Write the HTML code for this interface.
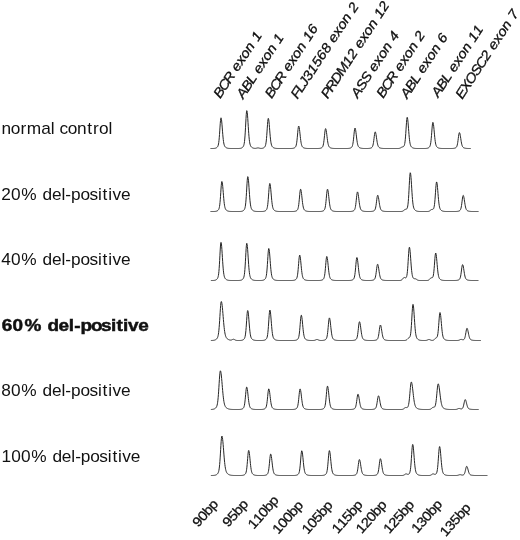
<!DOCTYPE html><html><head><meta charset="utf-8"><style>html,body{margin:0;padding:0;background:#fff;}svg{display:block;will-change:transform;}text{font-family:"Liberation Sans",sans-serif;fill:#111;}</style></head><body>
<svg width="520" height="540" viewBox="0 0 520 540">
<rect width="520" height="540" fill="#fff"/>
<text transform="translate(1.4 134.1) scale(1.1 1)" x="-0.01 8.53 17.40 23.12 36.13 44.78 48.65 52.92 60.24 68.78 78.04 83.26 88.63 97.32" y="0" font-size="15.7">normal control</text>
<text transform="translate(1.3 199.8) scale(1.1 1)" x="0.06 8.90 18.20 32.92 37.52 45.99 54.67 58.23 63.35 71.90 80.18 87.89 92.10 97.19 101.03 108.85" y="0" font-size="15.7">20% del-positive</text>
<text transform="translate(1.3 265.1) scale(1.1 1)" x="0.06 8.90 18.20 32.92 37.52 45.99 54.67 58.23 63.35 71.90 80.18 87.89 92.10 97.19 101.03 108.85" y="0" font-size="15.7">40% del-positive</text>
<text transform="translate(1.5 330.9) scale(1.21 1)" x="0.13 9.12 19.04 34.05 38.01 47.06 55.60 60.19 65.29 73.93 82.33 90.43 95.04 100.52 104.61 112.93" y="0" font-size="15.7" font-weight="bold" stroke="#111" stroke-width="0.45">60% del-positive</text>
<text transform="translate(1.3 396.2) scale(1.1 1)" x="0.06 8.90 18.20 32.92 37.52 45.99 54.67 58.23 63.35 71.90 80.18 87.89 92.10 97.19 101.03 108.85" y="0" font-size="15.7">80% del-positive</text>
<text transform="translate(1.4 461.9) scale(1.1 1)" x="0.06 8.90 17.75 27.04 41.77 46.36 54.84 63.51 67.08 72.19 80.75 89.03 96.74 100.95 106.03 109.87 117.69" y="0" font-size="15.7">100% del-positive</text>
<text transform="translate(220.5 98.5) rotate(-56.5) scale(1.1 1)" x="-0.42 7.39 15.62 24.79 28.52 35.92 42.63 49.95 57.64 61.61" y="0" font-size="13.4" font-style="italic" stroke="#111" stroke-width="0.3">BCR exon 1</text>
<text transform="translate(243.5 99) rotate(-56.5) scale(1.1 1)" x="-0.43 7.67 15.76 22.99 26.72 34.12 40.83 48.16 55.84 59.81" y="0" font-size="13.4" font-style="italic" stroke="#111" stroke-width="0.3">ABL exon 1</text>
<text transform="translate(272 98.5) rotate(-56.5) scale(1.1 1)" x="-0.42 7.39 15.62 24.79 28.52 35.92 42.63 49.95 57.64 61.61 69.12" y="0" font-size="13.4" font-style="italic" stroke="#111" stroke-width="0.3">BCR exon 16</text>
<text transform="translate(298 98.8) rotate(-56.5) scale(1.1 1)" x="-0.69 6.36 12.72 18.79 26.30 33.82 41.34 48.85 56.55 60.29 67.68 74.39 81.72 89.40 93.37" y="0" font-size="13.4" font-style="italic" stroke="#111" stroke-width="0.3">FLJ31568 exon 2</text>
<text transform="translate(328.3 98.3) rotate(-56.5) scale(1.1 1)" x="-0.91 6.39 15.06 23.85 34.45 41.96 49.66 53.40 60.79 67.50 74.83 82.51 86.48 94.00" y="0" font-size="13.4" font-style="italic" stroke="#111" stroke-width="0.3">PRDM12 exon 12</text>
<text transform="translate(358.0 98.3) rotate(-56.5) scale(1.1 1)" x="-0.43 7.66 15.74 24.47 28.20 35.60 42.31 49.63 57.32 61.29" y="0" font-size="13.4" font-style="italic" stroke="#111" stroke-width="0.3">ASS exon 4</text>
<text transform="translate(383.6 98.3) rotate(-56.5) scale(1.1 1)" x="-0.42 7.39 15.62 24.79 28.52 35.92 42.63 49.95 57.64 61.61" y="0" font-size="13.4" font-style="italic" stroke="#111" stroke-width="0.3">BCR exon 2</text>
<text transform="translate(407.4 98.8) rotate(-56.5) scale(1.1 1)" x="-0.43 7.67 15.76 22.99 26.72 34.12 40.83 48.16 55.84 59.81" y="0" font-size="13.4" font-style="italic" stroke="#111" stroke-width="0.3">ABL exon 6</text>
<text transform="translate(438.5 97.5) rotate(-56.5) scale(1.1 1)" x="-0.43 7.67 15.76 22.99 26.72 34.12 40.83 48.16 55.84 59.81 67.33" y="0" font-size="13.4" font-style="italic" stroke="#111" stroke-width="0.3">ABL exon 11</text>
<text transform="translate(462.6 99) rotate(-56.5) scale(1.1 1)" x="-0.73 7.05 15.00 24.44 32.24 41.23 48.93 52.67 60.06 66.77 74.10 81.78 85.75" y="0" font-size="13.4" font-style="italic" stroke="#111" stroke-width="0.3">EXOSC2 exon 7</text>
<text transform="translate(198.5 527.5) rotate(-48.5) scale(1.1 1)" x="-0.23 6.77 13.69 20.55" y="0" font-size="13.4" stroke="#111" stroke-width="0.3">90bp</text>
<text transform="translate(228.5 527.5) rotate(-48.5) scale(1.1 1)" x="-0.23 6.77 13.69 20.55" y="0" font-size="13.4" stroke="#111" stroke-width="0.3">95bp</text>
<text transform="translate(254 529.5) rotate(-48.5) scale(1.1 1)" x="-0.23 6.77 13.76 20.69 27.54" y="0" font-size="13.4" stroke="#111" stroke-width="0.3">110bp</text>
<text transform="translate(278.5 534.5) rotate(-48.5) scale(1.1 1)" x="-0.23 6.77 13.76 20.69 27.54" y="0" font-size="13.4" stroke="#111" stroke-width="0.3">100bp</text>
<text transform="translate(308 534.5) rotate(-48.5) scale(1.1 1)" x="-0.23 6.77 13.76 20.69 27.54" y="0" font-size="13.4" stroke="#111" stroke-width="0.3">105bp</text>
<text transform="translate(338 534) rotate(-48.5) scale(1.1 1)" x="-0.23 6.77 13.76 20.69 27.54" y="0" font-size="13.4" stroke="#111" stroke-width="0.3">115bp</text>
<text transform="translate(362 534) rotate(-48.5) scale(1.1 1)" x="-0.23 6.77 13.76 20.69 27.54" y="0" font-size="13.4" stroke="#111" stroke-width="0.3">120bp</text>
<text transform="translate(389.5 534) rotate(-48.5) scale(1.1 1)" x="-0.23 6.77 13.76 20.69 27.54" y="0" font-size="13.4" stroke="#111" stroke-width="0.3">125bp</text>
<text transform="translate(417.5 533.5) rotate(-48.5) scale(1.1 1)" x="-0.23 6.77 13.76 20.69 27.54" y="0" font-size="13.4" stroke="#111" stroke-width="0.3">130bp</text>
<text transform="translate(446 537) rotate(-48.5) scale(1.1 1)" x="-0.23 6.77 13.76 20.69 27.54" y="0" font-size="13.4" stroke="#111" stroke-width="0.3">135bp</text>
<polyline fill="none" stroke="#262626" stroke-width="1.0" stroke-linejoin="round" points="210.50,148.50 210.75,148.50 211.00,148.50 211.25,148.50 211.50,148.50 211.75,148.50 212.00,148.50 212.25,148.49 212.50,148.49 212.75,148.49 213.00,148.48 213.25,148.47 213.50,148.46 213.75,148.45 214.00,148.43 214.25,148.41 214.50,148.38 214.75,148.35 215.00,148.30 215.25,148.24 215.50,148.18 215.75,148.09 216.00,147.99 216.25,147.87 216.50,147.73 216.75,147.57 217.00,147.37 217.25,147.13 217.50,146.82 217.75,146.42 218.00,145.87 218.25,145.09 218.50,143.98 218.75,142.45 219.00,140.39 219.25,137.74 219.50,134.53 219.75,130.90 220.00,127.09 220.25,123.48 220.50,120.48 220.75,118.50 221.00,117.80 221.25,118.30 221.50,119.75 221.75,121.99 222.00,124.82 222.25,127.96 222.50,131.19 222.75,134.27 223.00,137.05 223.25,139.44 223.50,141.41 223.75,142.97 224.00,144.18 224.25,145.09 224.50,145.76 224.75,146.27 225.00,146.65 225.25,146.95 225.50,147.19 225.75,147.38 226.00,147.55 226.25,147.70 226.50,147.82 226.75,147.93 227.00,148.02 227.25,148.11 227.50,148.18 227.75,148.23 228.00,148.28 228.25,148.33 228.50,148.36 228.75,148.39 229.00,148.41 229.25,148.43 229.50,148.45 229.75,148.46 230.00,148.47 230.25,148.48 230.50,148.48 230.75,148.49 231.00,148.49 231.25,148.49 231.50,148.49 231.75,148.50 232.00,148.50 232.25,148.50 232.50,148.50 232.75,148.50 233.00,148.50 233.25,148.50 233.50,148.50 233.75,148.50 234.00,148.50 234.25,148.50 234.50,148.50 234.75,148.50 235.00,148.50 235.25,148.50 235.50,148.50 235.75,148.50 236.00,148.50 236.25,148.50 236.50,148.50 236.75,148.50 237.00,148.50 237.25,148.50 237.50,148.50 237.75,148.50 238.00,148.49 238.25,148.49 238.50,148.49 238.75,148.48 239.00,148.47 239.25,148.46 239.50,148.44 239.75,148.42 240.00,148.40 240.25,148.36 240.50,148.32 240.75,148.27 241.00,148.20 241.25,148.12 241.50,148.02 241.75,147.90 242.00,147.76 242.25,147.59 242.50,147.39 242.75,147.15 243.00,146.87 243.25,146.51 243.50,146.04 243.75,145.40 244.00,144.51 244.25,143.24 244.50,141.46 244.75,139.05 245.00,135.93 245.25,132.10 245.50,127.69 245.75,123.00 246.00,118.46 246.25,114.57 246.50,111.83 246.75,110.63 247.00,111.00 247.25,112.56 247.50,115.16 247.75,118.52 248.00,122.35 248.25,126.34 248.50,130.19 248.75,133.71 249.00,136.77 249.25,139.30 249.50,141.33 249.75,142.90 250.00,144.09 250.25,144.97 250.50,145.63 250.75,146.13 251.00,146.52 251.25,146.83 251.50,147.08 251.75,147.29 252.00,147.47 252.25,147.63 252.50,147.77 252.75,147.89 253.00,147.99 253.25,148.08 253.50,148.16 253.75,148.22 254.00,148.27 254.25,148.31 254.50,148.34 254.75,148.36 255.00,148.37 255.25,148.37 255.50,148.35 255.75,148.33 256.00,148.29 256.25,148.23 256.50,148.17 256.75,148.11 257.00,148.04 257.25,147.99 257.50,147.94 257.75,147.91 258.00,147.90 258.25,147.91 258.50,147.94 258.75,147.99 259.00,148.05 259.25,148.12 259.50,148.19 259.75,148.25 260.00,148.30 260.25,148.35 260.50,148.38 260.75,148.40 261.00,148.41 261.25,148.41 261.50,148.40 261.75,148.38 262.00,148.35 262.25,148.31 262.50,148.26 262.75,148.19 263.00,148.12 263.25,148.02 263.50,147.91 263.75,147.77 264.00,147.62 264.25,147.43 264.50,147.20 264.75,146.92 265.00,146.54 265.25,146.03 265.50,145.32 265.75,144.30 266.00,142.89 266.25,140.97 266.50,138.49 266.75,135.43 267.00,131.92 267.25,128.18 267.50,124.56 267.75,121.46 268.00,119.28 268.25,118.33 268.50,118.62 268.75,119.86 269.00,121.93 269.25,124.61 269.50,127.67 269.75,130.84 270.00,133.91 270.25,136.72 270.50,139.15 270.75,141.17 271.00,142.79 271.25,144.04 271.50,144.98 271.75,145.69 272.00,146.22 272.25,146.61 272.50,146.92 272.75,147.17 273.00,147.37 273.25,147.54 273.50,147.68 273.75,147.81 274.00,147.92 274.25,148.01 274.50,148.10 274.75,148.17 275.00,148.23 275.25,148.28 275.50,148.32 275.75,148.36 276.00,148.39 276.25,148.41 276.50,148.43 276.75,148.45 277.00,148.46 277.25,148.47 277.50,148.48 277.75,148.48 278.00,148.49 278.25,148.49 278.50,148.49 278.75,148.49 279.00,148.50 279.25,148.50 279.50,148.50 279.75,148.50 280.00,148.50 280.25,148.50 280.50,148.50 280.75,148.50 281.00,148.50 281.25,148.50 281.50,148.50 281.75,148.50 282.00,148.50 282.25,148.50 282.50,148.50 282.75,148.50 283.00,148.50 283.25,148.50 283.50,148.50 283.75,148.50 284.00,148.50 284.25,148.50 284.50,148.50 284.75,148.50 285.00,148.50 285.25,148.50 285.50,148.50 285.75,148.50 286.00,148.50 286.25,148.50 286.50,148.50 286.75,148.50 287.00,148.50 287.25,148.50 287.50,148.50 287.75,148.50 288.00,148.50 288.25,148.50 288.50,148.50 288.75,148.50 289.00,148.50 289.25,148.50 289.50,148.50 289.75,148.50 290.00,148.50 290.25,148.49 290.50,148.49 290.75,148.49 291.00,148.48 291.25,148.47 291.50,148.46 291.75,148.45 292.00,148.43 292.25,148.41 292.50,148.38 292.75,148.35 293.00,148.30 293.25,148.25 293.50,148.19 293.75,148.11 294.00,148.02 294.25,147.91 294.50,147.79 294.75,147.64 295.00,147.45 295.25,147.22 295.50,146.90 295.75,146.47 296.00,145.86 296.25,144.99 296.50,143.80 296.75,142.20 297.00,140.18 297.25,137.75 297.50,135.04 297.75,132.26 298.00,129.68 298.25,127.61 298.50,126.33 298.75,126.01 299.00,126.53 299.25,127.71 299.50,129.46 299.75,131.59 300.00,133.92 300.25,136.27 300.50,138.50 300.75,140.48 301.00,142.17 301.25,143.56 301.50,144.65 301.75,145.48 302.00,146.11 302.25,146.58 302.50,146.93 302.75,147.19 303.00,147.40 303.25,147.57 303.50,147.71 303.75,147.83 304.00,147.93 304.25,148.02 304.50,148.10 304.75,148.16 305.00,148.22 305.25,148.27 305.50,148.31 305.75,148.35 306.00,148.38 306.25,148.40 306.50,148.42 306.75,148.44 307.00,148.45 307.25,148.46 307.50,148.47 307.75,148.48 308.00,148.48 308.25,148.49 308.50,148.49 308.75,148.49 309.00,148.50 309.25,148.50 309.50,148.50 309.75,148.50 310.00,148.50 310.25,148.50 310.50,148.50 310.75,148.50 311.00,148.50 311.25,148.50 311.50,148.50 311.75,148.50 312.00,148.50 312.25,148.50 312.50,148.50 312.75,148.50 313.00,148.50 313.25,148.50 313.50,148.50 313.75,148.50 314.00,148.50 314.25,148.50 314.50,148.50 314.75,148.50 315.00,148.50 315.25,148.50 315.50,148.50 315.75,148.50 316.00,148.50 316.25,148.50 316.50,148.50 316.75,148.50 317.00,148.49 317.25,148.49 317.50,148.49 317.75,148.49 318.00,148.48 318.25,148.47 318.50,148.46 318.75,148.45 319.00,148.43 319.25,148.41 319.50,148.38 319.75,148.35 320.00,148.31 320.25,148.26 320.50,148.20 320.75,148.13 321.00,148.04 321.25,147.94 321.50,147.82 321.75,147.68 322.00,147.50 322.25,147.27 322.50,146.95 322.75,146.51 323.00,145.89 323.25,145.01 323.50,143.82 323.75,142.26 324.00,140.32 324.25,138.06 324.50,135.61 324.75,133.18 325.00,131.05 325.25,129.47 325.50,128.67 325.75,128.72 326.00,129.42 326.25,130.68 326.50,132.38 326.75,134.36 327.00,136.45 327.25,138.49 327.50,140.38 327.75,142.04 328.00,143.43 328.25,144.54 328.50,145.41 328.75,146.07 329.00,146.57 329.25,146.93 329.50,147.21 329.75,147.42 330.00,147.59 330.25,147.73 330.50,147.84 330.75,147.94 331.00,148.03 331.25,148.10 331.50,148.17 331.75,148.22 332.00,148.27 332.25,148.31 332.50,148.35 332.75,148.38 333.00,148.40 333.25,148.42 333.50,148.44 333.75,148.45 334.00,148.46 334.25,148.47 334.50,148.48 334.75,148.48 335.00,148.49 335.25,148.49 335.50,148.49 335.75,148.49 336.00,148.50 336.25,148.50 336.50,148.50 336.75,148.50 337.00,148.50 337.25,148.50 337.50,148.50 337.75,148.50 338.00,148.50 338.25,148.50 338.50,148.50 338.75,148.50 339.00,148.50 339.25,148.50 339.50,148.50 339.75,148.50 340.00,148.50 340.25,148.50 340.50,148.50 340.75,148.50 341.00,148.50 341.25,148.50 341.50,148.50 341.75,148.50 342.00,148.50 342.25,148.50 342.50,148.50 342.75,148.50 343.00,148.50 343.25,148.50 343.50,148.50 343.75,148.50 344.00,148.50 344.25,148.50 344.50,148.50 344.75,148.50 345.00,148.50 345.25,148.50 345.50,148.50 345.75,148.50 346.00,148.50 346.25,148.50 346.50,148.49 346.75,148.49 347.00,148.49 347.25,148.48 347.50,148.48 347.75,148.47 348.00,148.46 348.25,148.44 348.50,148.42 348.75,148.40 349.00,148.37 349.25,148.33 349.50,148.28 349.75,148.23 350.00,148.16 350.25,148.08 350.50,147.99 350.75,147.88 351.00,147.74 351.25,147.58 351.50,147.38 351.75,147.11 352.00,146.74 352.25,146.22 352.50,145.48 352.75,144.46 353.00,143.08 353.25,141.32 353.50,139.17 353.75,136.74 354.00,134.20 354.25,131.79 354.50,129.79 354.75,128.46 355.00,128.00 355.25,128.33 355.50,129.30 355.75,130.80 356.00,132.69 356.25,134.79 356.50,136.94 356.75,139.00 357.00,140.85 357.25,142.45 357.50,143.77 357.75,144.81 358.00,145.61 358.25,146.22 358.50,146.67 358.75,147.01 359.00,147.27 359.25,147.46 359.50,147.62 359.75,147.76 360.00,147.87 360.25,147.96 360.50,148.05 360.75,148.12 361.00,148.18 361.25,148.24 361.50,148.28 361.75,148.32 362.00,148.36 362.25,148.38 362.50,148.41 362.75,148.43 363.00,148.44 363.25,148.46 363.50,148.47 363.75,148.47 364.00,148.48 364.25,148.48 364.50,148.49 364.75,148.49 365.00,148.49 365.25,148.49 365.50,148.50 365.75,148.50 366.00,148.50 366.25,148.50 366.50,148.50 366.75,148.49 367.00,148.49 367.25,148.49 367.50,148.49 367.75,148.48 368.00,148.47 368.25,148.46 368.50,148.45 368.75,148.43 369.00,148.41 369.25,148.39 369.50,148.35 369.75,148.32 370.00,148.27 370.25,148.21 370.50,148.15 370.75,148.07 371.00,147.97 371.25,147.86 371.50,147.73 371.75,147.55 372.00,147.32 372.25,147.00 372.50,146.55 372.75,145.91 373.00,145.03 373.25,143.85 373.50,142.36 373.75,140.57 374.00,138.57 374.25,136.52 374.50,134.61 374.75,133.09 375.00,132.14 375.25,131.91 375.50,132.29 375.75,133.16 376.00,134.45 376.25,136.02 376.50,137.75 376.75,139.48 377.00,141.12 377.25,142.59 377.50,143.83 377.75,144.85 378.00,145.66 378.25,146.27 378.50,146.74 378.75,147.08 379.00,147.34 379.25,147.54 379.50,147.69 379.75,147.81 380.00,147.92 380.25,148.00 380.50,148.08 380.75,148.14 381.00,148.20 381.25,148.25 381.50,148.29 381.75,148.33 382.00,148.36 382.25,148.39 382.50,148.41 382.75,148.43 383.00,148.44 383.25,148.46 383.50,148.47 383.75,148.47 384.00,148.48 384.25,148.48 384.50,148.49 384.75,148.49 385.00,148.49 385.25,148.50 385.50,148.50 385.75,148.50 386.00,148.50 386.25,148.50 386.50,148.50 386.75,148.50 387.00,148.50 387.25,148.50 387.50,148.50 387.75,148.50 388.00,148.50 388.25,148.50 388.50,148.50 388.75,148.50 389.00,148.50 389.25,148.50 389.50,148.50 389.75,148.50 390.00,148.50 390.25,148.50 390.50,148.50 390.75,148.50 391.00,148.50 391.25,148.50 391.50,148.50 391.75,148.50 392.00,148.50 392.25,148.50 392.50,148.50 392.75,148.50 393.00,148.50 393.25,148.50 393.50,148.50 393.75,148.50 394.00,148.50 394.25,148.50 394.50,148.50 394.75,148.50 395.00,148.50 395.25,148.50 395.50,148.50 395.75,148.50 396.00,148.50 396.25,148.50 396.50,148.50 396.75,148.50 397.00,148.50 397.25,148.50 397.50,148.50 397.75,148.49 398.00,148.49 398.25,148.48 398.50,148.47 398.75,148.45 399.00,148.42 399.25,148.37 399.50,148.31 399.75,148.24 400.00,148.14 400.25,148.03 400.50,147.89 400.75,147.74 401.00,147.59 401.25,147.44 401.50,147.30 401.75,147.17 402.00,147.07 402.25,146.98 402.50,146.91 402.75,146.84 403.00,146.77 403.25,146.67 403.50,146.54 403.75,146.32 404.00,145.98 404.25,145.46 404.50,144.68 404.75,143.53 405.00,141.91 405.25,139.72 405.50,136.93 405.75,133.58 406.00,129.83 406.25,125.97 406.50,122.39 406.75,119.53 407.00,117.75 407.25,117.32 407.50,118.03 407.75,119.68 408.00,122.10 408.25,125.05 408.50,128.29 408.75,131.55 409.00,134.63 409.25,137.38 409.50,139.73 409.75,141.65 410.00,143.16 410.25,144.31 410.50,145.19 410.75,145.83 411.00,146.32 411.25,146.69 411.50,146.98 411.75,147.21 412.00,147.40 412.25,147.57 412.50,147.71 412.75,147.83 413.00,147.94 413.25,148.03 413.50,148.11 413.75,148.18 414.00,148.24 414.25,148.29 414.50,148.33 414.75,148.37 415.00,148.39 415.25,148.42 415.50,148.44 415.75,148.45 416.00,148.46 416.25,148.47 416.50,148.48 416.75,148.48 417.00,148.49 417.25,148.49 417.50,148.49 417.75,148.50 418.00,148.50 418.25,148.50 418.50,148.50 418.75,148.50 419.00,148.50 419.25,148.50 419.50,148.50 419.75,148.50 420.00,148.50 420.25,148.50 420.50,148.50 420.75,148.50 421.00,148.50 421.25,148.50 421.50,148.50 421.75,148.50 422.00,148.50 422.25,148.50 422.50,148.50 422.75,148.50 423.00,148.50 423.25,148.50 423.50,148.50 423.75,148.50 424.00,148.50 424.25,148.49 424.50,148.49 424.75,148.49 425.00,148.48 425.25,148.48 425.50,148.47 425.75,148.45 426.00,148.44 426.25,148.42 426.50,148.39 426.75,148.35 427.00,148.31 427.25,148.26 427.50,148.20 427.75,148.12 428.00,148.03 428.25,147.92 428.50,147.79 428.75,147.64 429.00,147.46 429.25,147.23 429.50,146.94 429.75,146.55 430.00,146.01 430.25,145.25 430.50,144.17 430.75,142.69 431.00,140.74 431.25,138.28 431.50,135.37 431.75,132.18 432.00,128.95 432.25,126.04 432.50,123.79 432.75,122.52 433.00,122.37 433.25,123.13 433.50,124.66 433.75,126.79 434.00,129.34 434.25,132.08 434.50,134.80 434.75,137.34 435.00,139.59 435.25,141.49 435.50,143.02 435.75,144.23 436.00,145.15 436.25,145.84 436.50,146.35 436.75,146.74 437.00,147.03 437.25,147.26 437.50,147.45 437.75,147.61 438.00,147.74 438.25,147.86 438.50,147.96 438.75,148.05 439.00,148.12 439.25,148.19 439.50,148.24 439.75,148.29 440.00,148.33 440.25,148.37 440.50,148.39 440.75,148.42 441.00,148.43 441.25,148.45 441.50,148.46 441.75,148.47 442.00,148.48 442.25,148.48 442.50,148.49 442.75,148.49 443.00,148.49 443.25,148.49 443.50,148.50 443.75,148.50 444.00,148.50 444.25,148.50 444.50,148.50 444.75,148.50 445.00,148.50 445.25,148.50 445.50,148.50 445.75,148.50 446.00,148.50 446.25,148.50 446.50,148.50 446.75,148.50 447.00,148.50 447.25,148.50 447.50,148.50 447.75,148.50 448.00,148.50 448.25,148.50 448.50,148.50 448.75,148.50 449.00,148.50 449.25,148.50 449.50,148.50 449.75,148.50 450.00,148.50 450.25,148.50 450.50,148.50 450.75,148.50 451.00,148.49 451.25,148.49 451.50,148.49 451.75,148.48 452.00,148.48 452.25,148.47 452.50,148.46 452.75,148.45 453.00,148.43 453.25,148.41 453.50,148.39 453.75,148.35 454.00,148.32 454.25,148.27 454.50,148.21 454.75,148.15 455.00,148.07 455.25,147.98 455.50,147.87 455.75,147.73 456.00,147.56 456.25,147.32 456.50,146.99 456.75,146.53 457.00,145.87 457.25,144.98 457.50,143.79 457.75,142.30 458.00,140.53 458.25,138.59 458.50,136.64 458.75,134.87 459.00,133.51 459.25,132.73 459.50,132.64 459.75,133.10 460.00,134.03 460.25,135.33 460.50,136.87 460.75,138.53 461.00,140.18 461.25,141.73 461.50,143.09 461.75,144.24 462.00,145.18 462.25,145.91 462.50,146.47 462.75,146.88 463.00,147.20 463.25,147.43 463.50,147.61 463.75,147.75 464.00,147.86 464.25,147.96 464.50,148.04 464.75,148.11 465.00,148.17 465.25,148.22 465.50,148.27 465.75,148.31 466.00,148.34 466.25,148.37 466.50,148.40 466.75,148.42 467.00,148.43 467.25,148.45 467.50,148.46 467.75,148.47 468.00,148.48 468.25,148.48 468.50,148.49 468.75,148.49 469.00,148.49 469.25,148.49 469.50,148.50 469.75,148.50 470.00,148.50 470.25,148.50 470.50,148.50 470.75,148.50"/>
<polyline fill="none" stroke="#262626" stroke-width="1.0" stroke-linejoin="round" points="210.50,211.50 210.75,211.50 211.00,211.50 211.25,211.50 211.50,211.50 211.75,211.50 212.00,211.50 212.25,211.50 212.50,211.50 212.75,211.50 213.00,211.50 213.25,211.49 213.50,211.49 213.75,211.49 214.00,211.48 214.25,211.47 214.50,211.46 214.75,211.45 215.00,211.43 215.25,211.40 215.50,211.37 215.75,211.33 216.00,211.28 216.25,211.22 216.50,211.15 216.75,211.06 217.00,210.96 217.25,210.83 217.50,210.68 217.75,210.51 218.00,210.30 218.25,210.04 218.50,209.71 218.75,209.26 219.00,208.64 219.25,207.76 219.50,206.53 219.75,204.83 220.00,202.58 220.25,199.76 220.50,196.42 220.75,192.75 221.00,189.04 221.25,185.70 221.50,183.11 221.75,181.65 222.00,181.48 222.25,182.35 222.50,184.11 222.75,186.56 223.00,189.49 223.25,192.63 223.50,195.76 223.75,198.68 224.00,201.26 224.25,203.44 224.50,205.21 224.75,206.59 225.00,207.65 225.25,208.44 225.50,209.03 225.75,209.47 226.00,209.81 226.25,210.08 226.50,210.29 226.75,210.47 227.00,210.63 227.25,210.76 227.50,210.88 227.75,210.98 228.00,211.07 228.25,211.14 228.50,211.21 228.75,211.26 229.00,211.31 229.25,211.34 229.50,211.38 229.75,211.40 230.00,211.42 230.25,211.44 230.50,211.45 230.75,211.46 231.00,211.47 231.25,211.48 231.50,211.48 231.75,211.49 232.00,211.49 232.25,211.49 232.50,211.50 232.75,211.50 233.00,211.50 233.25,211.50 233.50,211.50 233.75,211.50 234.00,211.50 234.25,211.50 234.50,211.50 234.75,211.50 235.00,211.50 235.25,211.50 235.50,211.50 235.75,211.50 236.00,211.50 236.25,211.50 236.50,211.50 236.75,211.50 237.00,211.50 237.25,211.50 237.50,211.50 237.75,211.50 238.00,211.50 238.25,211.50 238.50,211.50 238.75,211.50 239.00,211.49 239.25,211.49 239.50,211.49 239.75,211.48 240.00,211.47 240.25,211.46 240.50,211.45 240.75,211.43 241.00,211.41 241.25,211.37 241.50,211.34 241.75,211.29 242.00,211.22 242.25,211.15 242.50,211.06 242.75,210.95 243.00,210.81 243.25,210.66 243.50,210.48 243.75,210.26 244.00,210.00 244.25,209.67 244.50,209.24 244.75,208.65 245.00,207.82 245.25,206.65 245.50,205.02 245.75,202.80 246.00,199.93 246.25,196.40 246.50,192.34 246.75,188.02 247.00,183.83 247.25,180.25 247.50,177.73 247.75,176.63 248.00,176.97 248.25,178.41 248.50,180.79 248.75,183.90 249.00,187.42 249.25,191.09 249.50,194.64 249.75,197.88 250.00,200.70 250.25,203.03 250.50,204.90 250.75,206.34 251.00,207.44 251.25,208.25 251.50,208.86 251.75,209.32 252.00,209.68 252.25,209.96 252.50,210.19 252.75,210.39 253.00,210.55 253.25,210.70 253.50,210.83 253.75,210.94 254.00,211.03 254.25,211.12 254.50,211.19 254.75,211.24 255.00,211.29 255.25,211.34 255.50,211.37 255.75,211.40 256.00,211.42 256.25,211.44 256.50,211.45 256.75,211.46 257.00,211.47 257.25,211.48 257.50,211.48 257.75,211.49 258.00,211.49 258.25,211.49 258.50,211.50 258.75,211.50 259.00,211.50 259.25,211.50 259.50,211.50 259.75,211.50 260.00,211.50 260.25,211.50 260.50,211.50 260.75,211.50 261.00,211.49 261.25,211.49 261.50,211.49 261.75,211.48 262.00,211.48 262.25,211.47 262.50,211.46 262.75,211.44 263.00,211.42 263.25,211.40 263.50,211.37 263.75,211.33 264.00,211.28 264.25,211.22 264.50,211.14 264.75,211.05 265.00,210.95 265.25,210.82 265.50,210.68 265.75,210.50 266.00,210.29 266.25,210.03 266.50,209.68 266.75,209.20 267.00,208.54 267.25,207.60 267.50,206.28 267.75,204.50 268.00,202.18 268.25,199.34 268.50,196.07 268.75,192.60 269.00,189.22 269.25,186.34 269.50,184.31 269.75,183.43 270.00,183.69 270.25,184.85 270.50,186.78 270.75,189.27 271.00,192.11 271.25,195.07 271.50,197.93 271.75,200.54 272.00,202.80 272.25,204.68 272.50,206.18 272.75,207.35 273.00,208.23 273.25,208.89 273.50,209.38 273.75,209.75 274.00,210.03 274.25,210.26 274.50,210.45 274.75,210.60 275.00,210.74 275.25,210.86 275.50,210.96 275.75,211.05 276.00,211.12 276.25,211.19 276.50,211.25 276.75,211.29 277.00,211.33 277.25,211.37 277.50,211.40 277.75,211.42 278.00,211.44 278.25,211.45 278.50,211.46 278.75,211.47 279.00,211.48 279.25,211.48 279.50,211.49 279.75,211.49 280.00,211.49 280.25,211.50 280.50,211.50 280.75,211.50 281.00,211.50 281.25,211.50 281.50,211.50 281.75,211.50 282.00,211.50 282.25,211.50 282.50,211.50 282.75,211.50 283.00,211.50 283.25,211.50 283.50,211.50 283.75,211.50 284.00,211.50 284.25,211.50 284.50,211.50 284.75,211.50 285.00,211.50 285.25,211.50 285.50,211.50 285.75,211.50 286.00,211.50 286.25,211.50 286.50,211.50 286.75,211.50 287.00,211.50 287.25,211.50 287.50,211.50 287.75,211.50 288.00,211.50 288.25,211.50 288.50,211.50 288.75,211.50 289.00,211.50 289.25,211.50 289.50,211.50 289.75,211.50 290.00,211.50 290.25,211.50 290.50,211.50 290.75,211.50 291.00,211.50 291.25,211.50 291.50,211.50 291.75,211.50 292.00,211.49 292.25,211.49 292.50,211.49 292.75,211.48 293.00,211.48 293.25,211.47 293.50,211.46 293.75,211.44 294.00,211.42 294.25,211.40 294.50,211.37 294.75,211.33 295.00,211.29 295.25,211.23 295.50,211.16 295.75,211.08 296.00,210.98 296.25,210.87 296.50,210.74 296.75,210.58 297.00,210.38 297.25,210.12 297.50,209.76 297.75,209.27 298.00,208.57 298.25,207.59 298.50,206.26 298.75,204.51 299.00,202.33 299.25,199.80 299.50,197.05 299.75,194.34 300.00,191.95 300.25,190.18 300.50,189.28 300.75,189.33 301.00,190.12 301.25,191.53 301.50,193.44 301.75,195.65 302.00,197.99 302.25,200.29 302.50,202.41 302.75,204.26 303.00,205.82 303.25,207.07 303.50,208.04 303.75,208.78 304.00,209.33 304.25,209.74 304.50,210.05 304.75,210.29 305.00,210.48 305.25,210.64 305.50,210.76 305.75,210.88 306.00,210.97 306.25,211.05 306.50,211.13 306.75,211.19 307.00,211.24 307.25,211.29 307.50,211.33 307.75,211.36 308.00,211.39 308.25,211.41 308.50,211.43 308.75,211.45 309.00,211.46 309.25,211.47 309.50,211.48 309.75,211.48 310.00,211.49 310.25,211.49 310.50,211.49 310.75,211.49 311.00,211.50 311.25,211.50 311.50,211.50 311.75,211.50 312.00,211.50 312.25,211.50 312.50,211.50 312.75,211.50 313.00,211.50 313.25,211.50 313.50,211.50 313.75,211.50 314.00,211.50 314.25,211.50 314.50,211.50 314.75,211.50 315.00,211.50 315.25,211.50 315.50,211.50 315.75,211.50 316.00,211.50 316.25,211.50 316.50,211.50 316.75,211.50 317.00,211.50 317.25,211.50 317.50,211.50 317.75,211.50 318.00,211.50 318.25,211.50 318.50,211.50 318.75,211.50 319.00,211.49 319.25,211.49 319.50,211.49 319.75,211.48 320.00,211.47 320.25,211.46 320.50,211.45 320.75,211.44 321.00,211.42 321.25,211.39 321.50,211.36 321.75,211.31 322.00,211.26 322.25,211.20 322.50,211.13 322.75,211.04 323.00,210.94 323.25,210.82 323.50,210.68 323.75,210.50 324.00,210.28 324.25,209.99 324.50,209.59 324.75,209.02 325.00,208.22 325.25,207.11 325.50,205.61 325.75,203.69 326.00,201.36 326.25,198.71 326.50,195.95 326.75,193.32 327.00,191.15 327.25,189.71 327.50,189.20 327.75,189.56 328.00,190.61 328.25,192.25 328.50,194.30 328.75,196.58 329.00,198.92 329.25,201.16 329.50,203.18 329.75,204.92 330.00,206.35 330.25,207.49 330.50,208.36 330.75,209.02 331.00,209.51 331.25,209.88 331.50,210.16 331.75,210.37 332.00,210.55 332.25,210.69 332.50,210.81 332.75,210.92 333.00,211.01 333.25,211.09 333.50,211.15 333.75,211.21 334.00,211.26 334.25,211.31 334.50,211.34 334.75,211.37 335.00,211.40 335.25,211.42 335.50,211.44 335.75,211.45 336.00,211.46 336.25,211.47 336.50,211.48 336.75,211.48 337.00,211.49 337.25,211.49 337.50,211.49 337.75,211.49 338.00,211.50 338.25,211.50 338.50,211.50 338.75,211.50 339.00,211.50 339.25,211.50 339.50,211.50 339.75,211.50 340.00,211.50 340.25,211.50 340.50,211.50 340.75,211.50 341.00,211.50 341.25,211.50 341.50,211.50 341.75,211.50 342.00,211.50 342.25,211.50 342.50,211.50 342.75,211.50 343.00,211.50 343.25,211.50 343.50,211.50 343.75,211.50 344.00,211.50 344.25,211.50 344.50,211.50 344.75,211.50 345.00,211.50 345.25,211.50 345.50,211.50 345.75,211.50 346.00,211.50 346.25,211.50 346.50,211.50 346.75,211.50 347.00,211.50 347.25,211.50 347.50,211.50 347.75,211.50 348.00,211.50 348.25,211.50 348.50,211.50 348.75,211.50 349.00,211.49 349.25,211.49 349.50,211.49 349.75,211.48 350.00,211.48 350.25,211.47 350.50,211.46 350.75,211.44 351.00,211.43 351.25,211.40 351.50,211.37 351.75,211.34 352.00,211.29 352.25,211.24 352.50,211.17 352.75,211.10 353.00,211.01 353.25,210.90 353.50,210.78 353.75,210.62 354.00,210.43 354.25,210.17 354.50,209.82 354.75,209.32 355.00,208.62 355.25,207.64 355.50,206.32 355.75,204.63 356.00,202.58 356.25,200.26 356.50,197.83 356.75,195.52 357.00,193.61 357.25,192.34 357.50,191.90 357.75,192.22 358.00,193.14 358.25,194.58 358.50,196.38 358.75,198.39 359.00,200.45 359.25,202.41 359.50,204.19 359.75,205.72 360.00,206.97 360.25,207.97 360.50,208.74 360.75,209.32 361.00,209.75 361.25,210.08 361.50,210.32 361.75,210.51 362.00,210.66 362.25,210.79 362.50,210.89 362.75,210.99 363.00,211.07 363.25,211.14 363.50,211.20 363.75,211.25 364.00,211.29 364.25,211.33 364.50,211.36 364.75,211.39 365.00,211.41 365.25,211.43 365.50,211.45 365.75,211.46 366.00,211.47 366.25,211.47 366.50,211.48 366.75,211.49 367.00,211.49 367.25,211.49 367.50,211.49 367.75,211.50 368.00,211.50 368.25,211.50 368.50,211.50 368.75,211.50 369.00,211.50 369.25,211.49 369.50,211.49 369.75,211.49 370.00,211.49 370.25,211.48 370.50,211.47 370.75,211.46 371.00,211.45 371.25,211.43 371.50,211.41 371.75,211.39 372.00,211.36 372.25,211.32 372.50,211.27 372.75,211.22 373.00,211.15 373.25,211.08 373.50,210.98 373.75,210.88 374.00,210.74 374.25,210.57 374.50,210.34 374.75,210.03 375.00,209.59 375.25,208.96 375.50,208.09 375.75,206.94 376.00,205.47 376.25,203.71 376.50,201.75 376.75,199.73 377.00,197.86 377.25,196.36 377.50,195.44 377.75,195.21 378.00,195.58 378.25,196.44 378.50,197.71 378.75,199.25 379.00,200.94 379.25,202.64 379.50,204.25 379.75,205.69 380.00,206.92 380.25,207.92 380.50,208.71 380.75,209.31 381.00,209.77 381.25,210.11 381.50,210.36 381.75,210.55 382.00,210.70 382.25,210.83 382.50,210.93 382.75,211.01 383.00,211.09 383.25,211.15 383.50,211.21 383.75,211.26 384.00,211.30 384.25,211.33 384.50,211.36 384.75,211.39 385.00,211.41 385.25,211.43 385.50,211.44 385.75,211.46 386.00,211.47 386.25,211.47 386.50,211.48 386.75,211.48 387.00,211.49 387.25,211.49 387.50,211.49 387.75,211.50 388.00,211.50 388.25,211.50 388.50,211.50 388.75,211.50 389.00,211.50 389.25,211.50 389.50,211.50 389.75,211.50 390.00,211.50 390.25,211.50 390.50,211.50 390.75,211.50 391.00,211.50 391.25,211.50 391.50,211.50 391.75,211.50 392.00,211.50 392.25,211.50 392.50,211.50 392.75,211.50 393.00,211.50 393.25,211.50 393.50,211.50 393.75,211.50 394.00,211.50 394.25,211.50 394.50,211.50 394.75,211.50 395.00,211.50 395.25,211.50 395.50,211.50 395.75,211.50 396.00,211.50 396.25,211.50 396.50,211.50 396.75,211.50 397.00,211.50 397.25,211.50 397.50,211.50 397.75,211.50 398.00,211.50 398.25,211.50 398.50,211.50 398.75,211.50 399.00,211.50 399.25,211.50 399.50,211.50 399.75,211.50 400.00,211.50 400.25,211.50 400.50,211.49 400.75,211.49 401.00,211.48 401.25,211.47 401.50,211.45 401.75,211.42 402.00,211.38 402.25,211.32 402.50,211.23 402.75,211.12 403.00,210.98 403.25,210.82 403.50,210.62 403.75,210.42 404.00,210.20 404.25,209.99 404.50,209.80 404.75,209.64 405.00,209.51 405.25,209.41 405.50,209.34 405.75,209.30 406.00,209.25 406.25,209.18 406.50,209.06 406.75,208.86 407.00,208.53 407.25,208.00 407.50,207.18 407.75,205.95 408.00,204.19 408.25,201.76 408.50,198.59 408.75,194.69 409.00,190.19 409.25,185.39 409.50,180.74 409.75,176.76 410.00,173.96 410.25,172.74 410.50,173.11 410.75,174.71 411.00,177.36 411.25,180.81 411.50,184.73 411.75,188.81 412.00,192.76 412.25,196.36 412.50,199.49 412.75,202.09 413.00,204.16 413.25,205.77 413.50,206.98 413.75,207.89 414.00,208.57 414.25,209.08 414.50,209.47 414.75,209.79 415.00,210.04 415.25,210.26 415.50,210.45 415.75,210.61 416.00,210.75 416.25,210.88 416.50,210.98 416.75,211.07 417.00,211.15 417.25,211.22 417.50,211.27 417.75,211.32 418.00,211.36 418.25,211.39 418.50,211.41 418.75,211.43 419.00,211.45 419.25,211.46 419.50,211.47 419.75,211.48 420.00,211.48 420.25,211.49 420.50,211.49 420.75,211.49 421.00,211.50 421.25,211.50 421.50,211.50 421.75,211.50 422.00,211.50 422.25,211.50 422.50,211.50 422.75,211.50 423.00,211.50 423.25,211.50 423.50,211.50 423.75,211.50 424.00,211.50 424.25,211.50 424.50,211.50 424.75,211.50 425.00,211.50 425.25,211.50 425.50,211.50 425.75,211.50 426.00,211.50 426.25,211.50 426.50,211.50 426.75,211.50 427.00,211.49 427.25,211.49 427.50,211.48 427.75,211.47 428.00,211.45 428.25,211.42 428.50,211.38 428.75,211.32 429.00,211.23 429.25,211.12 429.50,210.98 429.75,210.82 430.00,210.63 430.25,210.42 430.50,210.21 430.75,210.01 431.00,209.82 431.25,209.67 431.50,209.55 431.75,209.47 432.00,209.42 432.25,209.40 432.50,209.37 432.75,209.33 433.00,209.24 433.25,209.06 433.50,208.74 433.75,208.21 434.00,207.38 434.25,206.16 434.50,204.44 434.75,202.15 435.00,199.29 435.25,195.94 435.50,192.31 435.75,188.71 436.00,185.54 436.25,183.20 436.50,182.01 436.75,182.07 437.00,183.12 437.25,185.00 437.50,187.52 437.75,190.46 438.00,193.57 438.25,196.62 438.50,199.43 438.75,201.89 439.00,203.95 439.25,205.61 439.50,206.91 439.75,207.89 440.00,208.62 440.25,209.17 440.50,209.58 440.75,209.90 441.00,210.15 441.25,210.35 441.50,210.52 441.75,210.67 442.00,210.80 442.25,210.91 442.50,211.01 442.75,211.09 443.00,211.16 443.25,211.22 443.50,211.27 443.75,211.32 444.00,211.35 444.25,211.38 444.50,211.41 444.75,211.43 445.00,211.44 445.25,211.46 445.50,211.47 445.75,211.48 446.00,211.48 446.25,211.49 446.50,211.49 446.75,211.49 447.00,211.49 447.25,211.50 447.50,211.50 447.75,211.50 448.00,211.50 448.25,211.50 448.50,211.50 448.75,211.50 449.00,211.50 449.25,211.50 449.50,211.50 449.75,211.50 450.00,211.50 450.25,211.50 450.50,211.50 450.75,211.50 451.00,211.50 451.25,211.50 451.50,211.50 451.75,211.50 452.00,211.50 452.25,211.50 452.50,211.50 452.75,211.50 453.00,211.50 453.25,211.50 453.50,211.50 453.75,211.50 454.00,211.50 454.25,211.50 454.50,211.50 454.75,211.49 455.00,211.49 455.25,211.49 455.50,211.49 455.75,211.48 456.00,211.47 456.25,211.46 456.50,211.45 456.75,211.44 457.00,211.42 457.25,211.39 457.50,211.36 457.75,211.32 458.00,211.28 458.25,211.22 458.50,211.16 458.75,211.08 459.00,210.99 459.25,210.88 459.50,210.75 459.75,210.58 460.00,210.36 460.25,210.05 460.50,209.61 460.75,208.99 461.00,208.14 461.25,206.99 461.50,205.54 461.75,203.81 462.00,201.87 462.25,199.88 462.50,198.03 462.75,196.55 463.00,195.63 463.25,195.41 463.50,195.78 463.75,196.63 464.00,197.87 464.25,199.40 464.50,201.07 464.75,202.75 465.00,204.34 465.25,205.76 465.50,206.97 465.75,207.96 466.00,208.74 466.25,209.34 466.50,209.79 466.75,210.12 467.00,210.37 467.25,210.56 467.50,210.71 467.75,210.83 468.00,210.93 468.25,211.02 468.50,211.09 468.75,211.16 469.00,211.21 469.25,211.26 469.50,211.30 469.75,211.34 470.00,211.37 470.25,211.39 470.50,211.41 470.75,211.43 471.00,211.45 471.25,211.46 471.50,211.47 471.75,211.47 472.00,211.48 472.25,211.48 472.50,211.49 472.75,211.49 473.00,211.49 473.25,211.50 473.50,211.50 473.75,211.50 474.00,211.50 474.25,211.50 474.50,211.50 474.75,211.50 475.00,211.50 475.25,211.50 475.50,211.50 475.75,211.50 476.00,211.50 476.25,211.50 476.50,211.50 476.75,211.50 477.00,211.50 477.25,211.50 477.50,211.50 477.75,211.50 478.00,211.50 478.25,211.50 478.50,211.50"/>
<polyline fill="none" stroke="#262626" stroke-width="1.0" stroke-linejoin="round" points="210.90,280.50 211.15,280.50 211.40,280.50 211.65,280.50 211.90,280.50 212.15,280.49 212.40,280.49 212.65,280.49 212.90,280.48 213.15,280.47 213.40,280.46 213.65,280.45 213.90,280.43 214.15,280.40 214.40,280.37 214.65,280.33 214.90,280.28 215.15,280.21 215.40,280.13 215.65,280.04 215.90,279.92 216.15,279.78 216.40,279.62 216.65,279.42 216.90,279.20 217.15,278.92 217.40,278.58 217.65,278.13 217.90,277.53 218.15,276.68 218.40,275.49 218.65,273.81 218.90,271.52 219.15,268.52 219.40,264.80 219.65,260.45 219.90,255.75 220.15,251.10 220.40,247.00 220.65,243.98 220.90,242.44 221.15,242.53 221.40,243.87 221.65,246.30 221.90,249.56 222.15,253.35 222.40,257.36 222.65,261.29 222.90,264.92 223.15,268.10 223.40,270.76 223.65,272.90 223.90,274.57 224.15,275.84 224.40,276.79 224.65,277.49 224.90,278.02 225.15,278.43 225.40,278.76 225.65,279.02 225.90,279.24 226.15,279.43 226.40,279.59 226.65,279.74 226.90,279.86 227.15,279.97 227.40,280.06 227.65,280.14 227.90,280.21 228.15,280.27 228.40,280.31 228.65,280.35 228.90,280.38 229.15,280.41 229.40,280.43 229.65,280.44 229.90,280.46 230.15,280.47 230.40,280.48 230.65,280.48 230.90,280.49 231.15,280.49 231.40,280.49 231.65,280.49 231.90,280.50 232.15,280.50 232.40,280.50 232.65,280.50 232.90,280.50 233.15,280.50 233.40,280.50 233.65,280.50 233.90,280.50 234.15,280.50 234.40,280.50 234.65,280.50 234.90,280.50 235.15,280.50 235.40,280.50 235.65,280.50 235.90,280.50 236.15,280.50 236.40,280.50 236.65,280.50 236.90,280.50 237.15,280.50 237.40,280.50 237.65,280.50 237.90,280.49 238.15,280.49 238.40,280.49 238.65,280.48 238.90,280.47 239.15,280.46 239.40,280.45 239.65,280.43 239.90,280.41 240.15,280.38 240.40,280.34 240.65,280.29 240.90,280.23 241.15,280.16 241.40,280.07 241.65,279.96 241.90,279.83 242.15,279.67 242.40,279.49 242.65,279.27 242.90,279.02 243.15,278.70 243.40,278.28 243.65,277.73 243.90,276.96 244.15,275.87 244.40,274.34 244.65,272.23 244.90,269.45 245.15,265.95 245.40,261.81 245.65,257.26 245.90,252.67 246.15,248.52 246.40,245.32 246.65,243.51 246.90,243.30 247.15,244.38 247.40,246.55 247.65,249.60 247.90,253.23 248.15,257.12 248.40,260.99 248.65,264.61 248.90,267.81 249.15,270.51 249.40,272.70 249.65,274.42 249.90,275.73 250.15,276.71 250.40,277.44 250.65,277.99 250.90,278.41 251.15,278.74 251.40,279.01 251.65,279.23 251.90,279.42 252.15,279.59 252.40,279.73 252.65,279.85 252.90,279.96 253.15,280.06 253.40,280.14 253.65,280.20 253.90,280.26 254.15,280.31 254.40,280.35 254.65,280.38 254.90,280.41 255.15,280.43 255.40,280.44 255.65,280.46 255.90,280.47 256.15,280.48 256.40,280.48 256.65,280.49 256.90,280.49 257.15,280.49 257.40,280.49 257.65,280.50 257.90,280.50 258.15,280.50 258.40,280.50 258.65,280.50 258.90,280.50 259.15,280.50 259.40,280.50 259.65,280.50 259.90,280.49 260.15,280.49 260.40,280.49 260.65,280.48 260.90,280.48 261.15,280.47 261.40,280.46 261.65,280.44 261.90,280.42 262.15,280.40 262.40,280.36 262.65,280.32 262.90,280.27 263.15,280.21 263.40,280.13 263.65,280.03 263.90,279.92 264.15,279.79 264.40,279.63 264.65,279.44 264.90,279.22 265.15,278.95 265.40,278.59 265.65,278.12 265.90,277.45 266.15,276.52 266.40,275.20 266.65,273.38 266.90,270.99 267.15,267.98 267.40,264.42 267.65,260.50 267.90,256.55 268.15,252.98 268.40,250.23 268.65,248.66 268.90,248.48 269.15,249.42 269.40,251.29 269.65,253.91 269.90,257.03 270.15,260.38 270.40,263.71 270.65,266.83 270.90,269.58 271.15,271.91 271.40,273.79 271.65,275.27 271.90,276.39 272.15,277.24 272.40,277.87 272.65,278.34 272.90,278.70 273.15,278.98 273.40,279.21 273.65,279.41 273.90,279.57 274.15,279.71 274.40,279.84 274.65,279.94 274.90,280.04 275.15,280.12 275.40,280.19 275.65,280.24 275.90,280.29 276.15,280.33 276.40,280.37 276.65,280.40 276.90,280.42 277.15,280.44 277.40,280.45 277.65,280.46 277.90,280.47 278.15,280.48 278.40,280.48 278.65,280.49 278.90,280.49 279.15,280.49 279.40,280.50 279.65,280.50 279.90,280.50 280.15,280.50 280.40,280.50 280.65,280.50 280.90,280.50 281.15,280.50 281.40,280.50 281.65,280.50 281.90,280.50 282.15,280.50 282.40,280.50 282.65,280.50 282.90,280.50 283.15,280.50 283.40,280.50 283.65,280.50 283.90,280.50 284.15,280.50 284.40,280.50 284.65,280.50 284.90,280.50 285.15,280.50 285.40,280.50 285.65,280.50 285.90,280.50 286.15,280.50 286.40,280.50 286.65,280.50 286.90,280.50 287.15,280.50 287.40,280.50 287.65,280.50 287.90,280.50 288.15,280.50 288.40,280.50 288.65,280.50 288.90,280.50 289.15,280.50 289.40,280.50 289.65,280.50 289.90,280.50 290.15,280.50 290.40,280.50 290.65,280.50 290.90,280.50 291.15,280.49 291.40,280.49 291.65,280.49 291.90,280.48 292.15,280.47 292.40,280.46 292.65,280.45 292.90,280.43 293.15,280.41 293.40,280.38 293.65,280.34 293.90,280.30 294.15,280.24 294.40,280.18 294.65,280.10 294.90,280.00 295.15,279.89 295.40,279.76 295.65,279.60 295.90,279.41 296.15,279.17 296.40,278.85 296.65,278.43 296.90,277.82 297.15,276.97 297.40,275.78 297.65,274.17 297.90,272.08 298.15,269.51 298.40,266.56 298.65,263.41 298.90,260.37 299.15,257.76 299.40,255.92 299.65,255.12 299.90,255.37 300.15,256.41 300.40,258.15 300.65,260.41 300.90,262.98 301.15,265.65 301.40,268.23 301.65,270.59 301.90,272.64 302.15,274.34 302.40,275.70 302.65,276.75 302.90,277.54 303.15,278.14 303.40,278.58 303.65,278.91 303.90,279.17 304.15,279.38 304.40,279.55 304.65,279.69 304.90,279.81 305.15,279.92 305.40,280.01 305.65,280.09 305.90,280.16 306.15,280.22 306.40,280.27 306.65,280.31 306.90,280.35 307.15,280.38 307.40,280.41 307.65,280.43 307.90,280.44 308.15,280.45 308.40,280.47 308.65,280.47 308.90,280.48 309.15,280.48 309.40,280.49 309.65,280.49 309.90,280.49 310.15,280.50 310.40,280.50 310.65,280.50 310.90,280.50 311.15,280.50 311.40,280.50 311.65,280.50 311.90,280.50 312.15,280.50 312.40,280.50 312.65,280.50 312.90,280.50 313.15,280.50 313.40,280.50 313.65,280.50 313.90,280.50 314.15,280.50 314.40,280.50 314.65,280.50 314.90,280.50 315.15,280.50 315.40,280.50 315.65,280.50 315.90,280.50 316.15,280.50 316.40,280.50 316.65,280.50 316.90,280.50 317.15,280.50 317.40,280.50 317.65,280.50 317.90,280.50 318.15,280.49 318.40,280.49 318.65,280.49 318.90,280.48 319.15,280.48 319.40,280.47 319.65,280.46 319.90,280.44 320.15,280.42 320.40,280.40 320.65,280.37 320.90,280.33 321.15,280.28 321.40,280.22 321.65,280.15 321.90,280.06 322.15,279.96 322.40,279.85 322.65,279.71 322.90,279.54 323.15,279.33 323.40,279.07 323.65,278.71 323.90,278.21 324.15,277.51 324.40,276.52 324.65,275.16 324.90,273.36 325.15,271.10 325.40,268.42 325.65,265.49 325.90,262.52 326.15,259.84 326.40,257.77 326.65,256.60 326.90,256.46 327.15,257.16 327.40,258.57 327.65,260.53 327.90,262.88 328.15,265.39 328.40,267.90 328.65,270.23 328.90,272.30 329.15,274.05 329.40,275.46 329.65,276.57 329.90,277.42 330.15,278.05 330.40,278.52 330.65,278.88 330.90,279.15 331.15,279.36 331.40,279.53 331.65,279.68 331.90,279.80 332.15,279.91 332.40,280.00 332.65,280.08 332.90,280.15 333.15,280.21 333.40,280.26 333.65,280.31 333.90,280.35 334.15,280.38 334.40,280.40 334.65,280.42 334.90,280.44 335.15,280.45 335.40,280.46 335.65,280.47 335.90,280.48 336.15,280.48 336.40,280.49 336.65,280.49 336.90,280.49 337.15,280.50 337.40,280.50 337.65,280.50 337.90,280.50 338.15,280.50 338.40,280.50 338.65,280.50 338.90,280.50 339.15,280.50 339.40,280.50 339.65,280.50 339.90,280.50 340.15,280.50 340.40,280.50 340.65,280.50 340.90,280.50 341.15,280.50 341.40,280.50 341.65,280.50 341.90,280.50 342.15,280.50 342.40,280.50 342.65,280.50 342.90,280.50 343.15,280.50 343.40,280.50 343.65,280.50 343.90,280.50 344.15,280.50 344.40,280.50 344.65,280.50 344.90,280.50 345.15,280.50 345.40,280.50 345.65,280.50 345.90,280.50 346.15,280.50 346.40,280.50 346.65,280.50 346.90,280.50 347.15,280.50 347.40,280.50 347.65,280.50 347.90,280.50 348.15,280.50 348.40,280.49 348.65,280.49 348.90,280.49 349.15,280.48 349.40,280.47 349.65,280.46 349.90,280.45 350.15,280.43 350.40,280.41 350.65,280.39 350.90,280.35 351.15,280.31 351.40,280.26 351.65,280.19 351.90,280.12 352.15,280.03 352.40,279.92 352.65,279.80 352.90,279.65 353.15,279.47 353.40,279.24 353.65,278.94 353.90,278.53 354.15,277.94 354.40,277.12 354.65,275.97 354.90,274.42 355.15,272.44 355.40,270.04 355.65,267.31 355.90,264.46 356.15,261.75 356.40,259.51 356.65,258.02 356.90,257.50 357.15,257.87 357.40,258.96 357.65,260.64 357.90,262.76 358.15,265.11 358.40,267.53 358.65,269.84 358.90,271.92 359.15,273.71 359.40,275.19 359.65,276.36 359.90,277.26 360.15,277.94 360.40,278.45 360.65,278.83 360.90,279.12 361.15,279.34 361.40,279.52 361.65,279.66 361.90,279.79 362.15,279.90 362.40,279.99 362.65,280.07 362.90,280.14 363.15,280.20 363.40,280.26 363.65,280.30 363.90,280.34 364.15,280.37 364.40,280.40 364.65,280.42 364.90,280.44 365.15,280.45 365.40,280.46 365.65,280.47 365.90,280.48 366.15,280.48 366.40,280.49 366.65,280.49 366.90,280.49 367.15,280.49 367.40,280.50 367.65,280.50 367.90,280.50 368.15,280.50 368.40,280.50 368.65,280.50 368.90,280.50 369.15,280.49 369.40,280.49 369.65,280.49 369.90,280.49 370.15,280.48 370.40,280.47 370.65,280.46 370.90,280.45 371.15,280.43 371.40,280.41 371.65,280.39 371.90,280.36 372.15,280.32 372.40,280.27 372.65,280.22 372.90,280.15 373.15,280.08 373.40,279.98 373.65,279.88 373.90,279.74 374.15,279.57 374.40,279.34 374.65,279.03 374.90,278.59 375.15,277.96 375.40,277.09 375.65,275.94 375.90,274.47 376.15,272.71 376.40,270.75 376.65,268.73 376.90,266.86 377.15,265.36 377.40,264.44 377.65,264.21 377.90,264.58 378.15,265.44 378.40,266.71 378.65,268.25 378.90,269.94 379.15,271.64 379.40,273.25 379.65,274.69 379.90,275.92 380.15,276.92 380.40,277.71 380.65,278.31 380.90,278.77 381.15,279.11 381.40,279.36 381.65,279.55 381.90,279.70 382.15,279.83 382.40,279.93 382.65,280.01 382.90,280.09 383.15,280.15 383.40,280.21 383.65,280.26 383.90,280.30 384.15,280.33 384.40,280.36 384.65,280.39 384.90,280.41 385.15,280.43 385.40,280.44 385.65,280.46 385.90,280.47 386.15,280.47 386.40,280.48 386.65,280.48 386.90,280.49 387.15,280.49 387.40,280.49 387.65,280.50 387.90,280.50 388.15,280.50 388.40,280.50 388.65,280.50 388.90,280.50 389.15,280.50 389.40,280.50 389.65,280.50 389.90,280.50 390.15,280.50 390.40,280.50 390.65,280.50 390.90,280.50 391.15,280.50 391.40,280.50 391.65,280.50 391.90,280.50 392.15,280.50 392.40,280.50 392.65,280.50 392.90,280.50 393.15,280.50 393.40,280.50 393.65,280.50 393.90,280.50 394.15,280.50 394.40,280.50 394.65,280.50 394.90,280.50 395.15,280.50 395.40,280.50 395.65,280.50 395.90,280.50 396.15,280.50 396.40,280.50 396.65,280.50 396.90,280.50 397.15,280.50 397.40,280.50 397.65,280.50 397.90,280.50 398.15,280.50 398.40,280.50 398.65,280.50 398.90,280.50 399.15,280.50 399.40,280.49 399.65,280.49 399.90,280.48 400.15,280.46 400.40,280.44 400.65,280.40 400.90,280.34 401.15,280.25 401.40,280.13 401.65,279.96 401.90,279.76 402.15,279.50 402.40,279.21 402.65,278.89 402.90,278.56 403.15,278.23 403.40,277.95 403.65,277.72 403.90,277.56 404.15,277.47 404.40,277.47 404.65,277.52 404.90,277.62 405.15,277.73 405.40,277.82 405.65,277.85 405.90,277.79 406.15,277.58 406.40,277.17 406.65,276.47 406.90,275.39 407.15,273.80 407.40,271.62 407.65,268.78 407.90,265.32 408.15,261.39 408.40,257.27 408.65,253.35 408.90,250.11 409.15,247.95 409.40,247.20 409.65,247.74 409.90,249.31 410.15,251.75 410.40,254.81 410.65,258.22 410.90,261.72 411.15,265.06 411.40,268.07 411.65,270.66 411.90,272.79 412.15,274.47 412.40,275.75 412.65,276.71 412.90,277.39 413.15,277.88 413.40,278.21 413.65,278.43 413.90,278.57 414.15,278.65 414.40,278.69 414.65,278.71 414.90,278.72 415.15,278.75 415.40,278.80 415.65,278.87 415.90,278.98 416.15,279.11 416.40,279.27 416.65,279.45 416.90,279.62 417.15,279.79 417.40,279.95 417.65,280.08 417.90,280.19 418.15,280.28 418.40,280.35 418.65,280.40 418.90,280.43 419.15,280.46 419.40,280.47 419.65,280.48 419.90,280.49 420.15,280.49 420.40,280.50 420.65,280.50 420.90,280.50 421.15,280.50 421.40,280.50 421.65,280.50 421.90,280.50 422.15,280.50 422.40,280.50 422.65,280.50 422.90,280.50 423.15,280.50 423.40,280.50 423.65,280.50 423.90,280.50 424.15,280.50 424.40,280.50 424.65,280.50 424.90,280.50 425.15,280.50 425.40,280.50 425.65,280.50 425.90,280.50 426.15,280.50 426.40,280.49 426.65,280.49 426.90,280.48 427.15,280.47 427.40,280.45 427.65,280.41 427.90,280.36 428.15,280.29 428.40,280.19 428.65,280.05 428.90,279.88 429.15,279.67 429.40,279.43 429.65,279.16 429.90,278.88 430.15,278.61 430.40,278.35 430.65,278.13 430.90,277.97 431.15,277.85 431.40,277.79 431.65,277.76 431.90,277.74 432.15,277.71 432.40,277.60 432.65,277.36 432.90,276.91 433.15,276.17 433.40,275.03 433.65,273.39 433.90,271.21 434.15,268.49 434.40,265.34 434.65,261.96 434.90,258.68 435.15,255.86 435.40,253.89 435.65,253.02 435.90,253.29 436.15,254.42 436.40,256.30 436.65,258.75 436.90,261.53 437.15,264.42 437.40,267.22 437.65,269.77 437.90,271.99 438.15,273.83 438.40,275.30 438.65,276.44 438.90,277.30 439.15,277.94 439.40,278.42 439.65,278.78 439.90,279.06 440.15,279.28 440.40,279.47 440.65,279.62 440.90,279.75 441.15,279.87 441.40,279.97 441.65,280.06 441.90,280.13 442.15,280.20 442.40,280.25 442.65,280.30 442.90,280.34 443.15,280.37 443.40,280.40 443.65,280.42 443.90,280.44 444.15,280.45 444.40,280.46 444.65,280.47 444.90,280.48 445.15,280.48 445.40,280.49 445.65,280.49 445.90,280.49 446.15,280.50 446.40,280.50 446.65,280.50 446.90,280.50 447.15,280.50 447.40,280.50 447.65,280.50 447.90,280.50 448.15,280.50 448.40,280.50 448.65,280.50 448.90,280.50 449.15,280.50 449.40,280.50 449.65,280.50 449.90,280.50 450.15,280.50 450.40,280.50 450.65,280.50 450.90,280.50 451.15,280.50 451.40,280.50 451.65,280.50 451.90,280.50 452.15,280.50 452.40,280.50 452.65,280.50 452.90,280.50 453.15,280.50 453.40,280.50 453.65,280.50 453.90,280.50 454.15,280.49 454.40,280.49 454.65,280.49 454.90,280.49 455.15,280.48 455.40,280.47 455.65,280.46 455.90,280.45 456.15,280.44 456.40,280.42 456.65,280.39 456.90,280.36 457.15,280.32 457.40,280.28 457.65,280.22 457.90,280.16 458.15,280.09 458.40,280.00 458.65,279.89 458.90,279.76 459.15,279.59 459.40,279.37 459.65,279.07 459.90,278.63 460.15,278.02 460.40,277.18 460.65,276.05 460.90,274.62 461.15,272.90 461.40,270.99 461.65,269.02 461.90,267.20 462.15,265.74 462.40,264.83 462.65,264.61 462.90,264.97 463.15,265.81 463.40,267.04 463.65,268.55 463.90,270.20 464.15,271.86 464.40,273.43 464.65,274.83 464.90,276.03 465.15,277.01 465.40,277.78 465.65,278.37 465.90,278.81 466.15,279.14 466.40,279.39 466.65,279.58 466.90,279.72 467.15,279.84 467.40,279.94 467.65,280.02 467.90,280.10 468.15,280.16 468.40,280.21 468.65,280.26 468.90,280.30 469.15,280.34 469.40,280.37 469.65,280.39 469.90,280.41 470.15,280.43 470.40,280.45 470.65,280.46 470.90,280.47 471.15,280.47 471.40,280.48 471.65,280.49 471.90,280.49 472.15,280.49 472.40,280.49 472.65,280.50 472.90,280.50 473.15,280.50 473.40,280.50 473.65,280.50 473.90,280.50 474.15,280.50 474.40,280.50 474.65,280.50 474.90,280.50 475.15,280.50 475.40,280.50 475.65,280.50 475.90,280.50 476.15,280.50 476.40,280.50 476.65,280.50 476.90,280.50 477.15,280.50 477.40,280.50 477.65,280.50 477.90,280.50 478.15,280.50 478.40,280.50"/>
<polyline fill="none" stroke="#262626" stroke-width="1.0" stroke-linejoin="round" points="210.90,340.49 211.15,340.49 211.40,340.48 211.65,340.48 211.90,340.47 212.15,340.46 212.40,340.45 212.65,340.44 212.90,340.42 213.15,340.39 213.40,340.37 213.65,340.33 213.90,340.29 214.15,340.24 214.40,340.18 214.65,340.10 214.90,340.02 215.15,339.92 215.40,339.81 215.65,339.67 215.90,339.52 216.15,339.35 216.40,339.15 216.65,338.92 216.90,338.64 217.15,338.29 217.40,337.86 217.65,337.29 217.90,336.53 218.15,335.52 218.40,334.18 218.65,332.43 218.90,330.20 219.15,327.45 219.40,324.19 219.65,320.50 219.90,316.53 220.15,312.50 220.40,308.71 220.65,305.46 220.90,303.06 221.15,301.72 221.40,301.56 221.65,302.19 221.90,303.49 222.15,305.38 222.40,307.75 222.65,310.48 222.90,313.44 223.15,316.49 223.40,319.51 223.65,322.40 223.90,325.07 224.15,327.48 224.40,329.61 224.65,331.43 224.90,332.96 225.15,334.23 225.40,335.27 225.65,336.11 225.90,336.78 226.15,337.33 226.40,337.76 226.65,338.12 226.90,338.41 227.15,338.66 227.40,338.87 227.65,339.06 227.90,339.22 228.15,339.37 228.40,339.50 228.65,339.62 228.90,339.72 229.15,339.82 229.40,339.90 229.65,339.97 229.90,340.03 230.15,340.07 230.40,340.10 230.65,340.11 230.90,340.10 231.15,340.06 231.40,340.00 231.65,339.92 231.90,339.82 232.15,339.70 232.40,339.58 232.65,339.46 232.90,339.36 233.15,339.30 233.40,339.27 233.65,339.28 233.90,339.33 234.15,339.42 234.40,339.54 234.65,339.68 234.90,339.82 235.15,339.96 235.40,340.08 235.65,340.19 235.90,340.28 236.15,340.35 236.40,340.40 236.65,340.43 236.90,340.46 237.15,340.48 237.40,340.49 237.65,340.49 237.90,340.49 238.15,340.50 238.40,340.50 238.65,340.50 238.90,340.49 239.15,340.49 239.40,340.49 239.65,340.48 239.90,340.48 240.15,340.47 240.40,340.46 240.65,340.44 240.90,340.42 241.15,340.39 241.40,340.36 241.65,340.32 241.90,340.26 242.15,340.20 242.40,340.12 242.65,340.02 242.90,339.91 243.15,339.78 243.40,339.62 243.65,339.44 243.90,339.21 244.15,338.93 244.40,338.56 244.65,338.05 244.90,337.34 245.15,336.33 245.40,334.93 245.65,333.02 245.90,330.55 246.15,327.52 246.40,324.03 246.65,320.32 246.90,316.72 247.15,313.64 247.40,311.47 247.65,310.53 247.90,310.81 248.15,312.05 248.40,314.11 248.65,316.77 248.90,319.80 249.15,322.96 249.40,326.01 249.65,328.80 249.90,331.21 250.15,333.22 250.40,334.83 250.65,336.07 250.90,337.01 251.15,337.71 251.40,338.23 251.65,338.63 251.90,338.93 252.15,339.17 252.40,339.37 252.65,339.54 252.90,339.69 253.15,339.81 253.40,339.92 253.65,340.02 253.90,340.10 254.15,340.17 254.40,340.23 254.65,340.28 254.90,340.32 255.15,340.36 255.40,340.39 255.65,340.41 255.90,340.43 256.15,340.45 256.40,340.46 256.65,340.47 256.90,340.48 257.15,340.48 257.40,340.49 257.65,340.49 257.90,340.49 258.15,340.49 258.40,340.50 258.65,340.50 258.90,340.50 259.15,340.50 259.40,340.50 259.65,340.50 259.90,340.50 260.15,340.50 260.40,340.50 260.65,340.50 260.90,340.50 261.15,340.49 261.40,340.49 261.65,340.49 261.90,340.48 262.15,340.47 262.40,340.46 262.65,340.45 262.90,340.43 263.15,340.41 263.40,340.38 263.65,340.35 263.90,340.30 264.15,340.25 264.40,340.18 264.65,340.09 264.90,339.99 265.15,339.88 265.40,339.74 265.65,339.57 265.90,339.38 266.15,339.14 266.40,338.83 266.65,338.43 266.90,337.88 267.15,337.11 267.40,336.01 267.65,334.49 267.90,332.44 268.15,329.81 268.40,326.62 268.65,323.01 268.90,319.23 269.15,315.64 269.40,312.66 269.65,310.69 269.90,310.00 270.15,310.50 270.40,311.93 270.65,314.17 270.90,316.97 271.15,320.10 271.40,323.30 271.65,326.36 271.90,329.12 272.15,331.50 272.40,333.46 272.65,335.01 272.90,336.21 273.15,337.11 273.40,337.78 273.65,338.28 273.90,338.66 274.15,338.96 274.40,339.20 274.65,339.39 274.90,339.56 275.15,339.70 275.40,339.82 275.65,339.93 275.90,340.03 276.15,340.11 276.40,340.18 276.65,340.24 276.90,340.29 277.15,340.33 277.40,340.36 277.65,340.39 277.90,340.41 278.15,340.43 278.40,340.45 278.65,340.46 278.90,340.47 279.15,340.48 279.40,340.48 279.65,340.49 279.90,340.49 280.15,340.49 280.40,340.49 280.65,340.50 280.90,340.50 281.15,340.50 281.40,340.50 281.65,340.50 281.90,340.50 282.15,340.50 282.40,340.50 282.65,340.50 282.90,340.50 283.15,340.50 283.40,340.50 283.65,340.50 283.90,340.50 284.15,340.50 284.40,340.50 284.65,340.50 284.90,340.50 285.15,340.50 285.40,340.50 285.65,340.50 285.90,340.50 286.15,340.50 286.40,340.50 286.65,340.50 286.90,340.50 287.15,340.50 287.40,340.50 287.65,340.50 287.90,340.50 288.15,340.50 288.40,340.50 288.65,340.50 288.90,340.50 289.15,340.50 289.40,340.50 289.65,340.50 289.90,340.50 290.15,340.50 290.40,340.50 290.65,340.50 290.90,340.50 291.15,340.50 291.40,340.50 291.65,340.50 291.90,340.50 292.15,340.50 292.40,340.50 292.65,340.49 292.90,340.49 293.15,340.49 293.40,340.48 293.65,340.48 293.90,340.47 294.15,340.45 294.40,340.44 294.65,340.42 294.90,340.39 295.15,340.36 295.40,340.32 295.65,340.27 295.90,340.21 296.15,340.13 296.40,340.04 296.65,339.94 296.90,339.81 297.15,339.67 297.40,339.49 297.65,339.28 297.90,339.00 298.15,338.62 298.40,338.10 298.65,337.36 298.90,336.32 299.15,334.89 299.40,333.00 299.65,330.63 299.90,327.82 300.15,324.74 300.40,321.63 300.65,318.81 300.90,316.64 301.15,315.41 301.40,315.27 301.65,316.00 301.90,317.48 302.15,319.54 302.40,322.00 302.65,324.64 302.90,327.27 303.15,329.72 303.40,331.89 303.65,333.73 303.90,335.21 304.15,336.38 304.40,337.26 304.65,337.93 304.90,338.43 305.15,338.80 305.40,339.08 305.65,339.31 305.90,339.49 306.15,339.64 306.40,339.77 306.65,339.88 306.90,339.98 307.15,340.06 307.40,340.14 307.65,340.20 307.90,340.25 308.15,340.30 308.40,340.34 308.65,340.37 308.90,340.40 309.15,340.42 309.40,340.44 309.65,340.45 309.90,340.46 310.15,340.47 310.40,340.48 310.65,340.48 310.90,340.49 311.15,340.49 311.40,340.49 311.65,340.49 311.90,340.50 312.15,340.50 312.40,340.50 312.65,340.49 312.90,340.49 313.15,340.49 313.40,340.48 313.65,340.46 313.90,340.44 314.15,340.41 314.40,340.36 314.65,340.30 314.90,340.23 315.15,340.14 315.40,340.03 315.65,339.92 315.90,339.80 316.15,339.69 316.40,339.60 316.65,339.54 316.90,339.50 317.15,339.51 317.40,339.55 317.65,339.62 317.90,339.71 318.15,339.82 318.40,339.94 318.65,340.05 318.90,340.16 319.15,340.24 319.40,340.32 319.65,340.37 319.90,340.42 320.15,340.44 320.40,340.46 320.65,340.48 320.90,340.48 321.15,340.48 321.40,340.48 321.65,340.48 321.90,340.47 322.15,340.46 322.40,340.45 322.65,340.44 322.90,340.41 323.15,340.39 323.40,340.35 323.65,340.31 323.90,340.26 324.15,340.20 324.40,340.13 324.65,340.04 324.90,339.93 325.15,339.81 325.40,339.67 325.65,339.49 325.90,339.27 326.15,338.97 326.40,338.56 326.65,337.99 326.90,337.18 327.15,336.05 327.40,334.53 327.65,332.58 327.90,330.22 328.15,327.54 328.40,324.74 328.65,322.08 328.90,319.87 329.15,318.41 329.40,317.90 329.65,318.27 329.90,319.33 330.15,320.99 330.40,323.07 330.65,325.38 330.90,327.75 331.15,330.02 331.40,332.07 331.65,333.83 331.90,335.28 332.15,336.43 332.40,337.32 332.65,337.99 332.90,338.49 333.15,338.86 333.40,339.14 333.65,339.36 333.90,339.53 334.15,339.68 334.40,339.80 334.65,339.91 334.90,340.00 335.15,340.08 335.40,340.15 335.65,340.21 335.90,340.26 336.15,340.30 336.40,340.34 336.65,340.37 336.90,340.40 337.15,340.42 337.40,340.44 337.65,340.45 337.90,340.46 338.15,340.47 338.40,340.48 338.65,340.48 338.90,340.49 339.15,340.49 339.40,340.49 339.65,340.49 339.90,340.50 340.15,340.50 340.40,340.50 340.65,340.50 340.90,340.50 341.15,340.50 341.40,340.50 341.65,340.50 341.90,340.50 342.15,340.50 342.40,340.50 342.65,340.50 342.90,340.50 343.15,340.50 343.40,340.50 343.65,340.50 343.90,340.50 344.15,340.50 344.40,340.50 344.65,340.50 344.90,340.50 345.15,340.50 345.40,340.50 345.65,340.50 345.90,340.50 346.15,340.50 346.40,340.50 346.65,340.50 346.90,340.50 347.15,340.50 347.40,340.50 347.65,340.50 347.90,340.50 348.15,340.50 348.40,340.50 348.65,340.50 348.90,340.50 349.15,340.50 349.40,340.50 349.65,340.50 349.90,340.50 350.15,340.50 350.40,340.50 350.65,340.50 350.90,340.50 351.15,340.49 351.40,340.49 351.65,340.49 351.90,340.48 352.15,340.47 352.40,340.46 352.65,340.45 352.90,340.44 353.15,340.42 353.40,340.39 353.65,340.36 353.90,340.32 354.15,340.27 354.40,340.21 354.65,340.15 354.90,340.07 355.15,339.97 355.40,339.86 355.65,339.72 355.90,339.55 356.15,339.33 356.40,339.04 356.65,338.62 356.90,338.03 357.15,337.21 357.40,336.08 357.65,334.60 357.90,332.77 358.15,330.63 358.40,328.32 358.65,326.03 358.90,324.01 359.15,322.53 359.40,321.77 359.65,321.81 359.90,322.47 360.15,323.67 360.40,325.27 360.65,327.14 360.90,329.11 361.15,331.05 361.40,332.83 361.65,334.40 361.90,335.71 362.15,336.76 362.40,337.58 362.65,338.21 362.90,338.67 363.15,339.02 363.40,339.28 363.65,339.48 363.90,339.64 364.15,339.77 364.40,339.88 364.65,339.97 364.90,340.05 365.15,340.12 365.40,340.19 365.65,340.24 365.90,340.28 366.15,340.32 366.40,340.36 366.65,340.38 366.90,340.41 367.15,340.43 367.40,340.44 367.65,340.45 367.90,340.46 368.15,340.47 368.40,340.48 368.65,340.48 368.90,340.49 369.15,340.49 369.40,340.49 369.65,340.50 369.90,340.50 370.15,340.50 370.40,340.50 370.65,340.50 370.90,340.50 371.15,340.50 371.40,340.50 371.65,340.50 371.90,340.50 372.15,340.49 372.40,340.49 372.65,340.49 372.90,340.48 373.15,340.48 373.40,340.47 373.65,340.46 373.90,340.44 374.15,340.42 374.40,340.40 374.65,340.37 374.90,340.34 375.15,340.29 375.40,340.24 375.65,340.18 375.90,340.11 376.15,340.03 376.40,339.93 376.65,339.81 376.90,339.65 377.15,339.45 377.40,339.17 377.65,338.78 377.90,338.22 378.15,337.45 378.40,336.41 378.65,335.07 378.90,333.45 379.15,331.61 379.40,329.69 379.65,327.87 379.90,326.35 380.15,325.35 380.40,325.00 380.65,325.25 380.90,325.98 381.15,327.12 381.40,328.54 381.65,330.13 381.90,331.76 382.15,333.31 382.40,334.72 382.65,335.93 382.90,336.92 383.15,337.71 383.40,338.32 383.65,338.78 383.90,339.12 384.15,339.37 384.40,339.57 384.65,339.72 384.90,339.84 385.15,339.94 385.40,340.02 385.65,340.09 385.90,340.16 386.15,340.21 386.40,340.26 386.65,340.30 386.90,340.34 387.15,340.37 387.40,340.39 387.65,340.41 387.90,340.43 388.15,340.44 388.40,340.46 388.65,340.47 388.90,340.47 389.15,340.48 389.40,340.48 389.65,340.49 389.90,340.49 390.15,340.49 390.40,340.50 390.65,340.50 390.90,340.50 391.15,340.50 391.40,340.50 391.65,340.50 391.90,340.50 392.15,340.50 392.40,340.50 392.65,340.50 392.90,340.50 393.15,340.50 393.40,340.50 393.65,340.50 393.90,340.50 394.15,340.50 394.40,340.50 394.65,340.50 394.90,340.50 395.15,340.50 395.40,340.50 395.65,340.50 395.90,340.50 396.15,340.50 396.40,340.50 396.65,340.50 396.90,340.50 397.15,340.50 397.40,340.50 397.65,340.50 397.90,340.50 398.15,340.50 398.40,340.50 398.65,340.50 398.90,340.50 399.15,340.50 399.40,340.50 399.65,340.50 399.90,340.50 400.15,340.50 400.40,340.50 400.65,340.50 400.90,340.50 401.15,340.50 401.40,340.50 401.65,340.50 401.90,340.50 402.15,340.50 402.40,340.50 402.65,340.50 402.90,340.50 403.15,340.50 403.40,340.50 403.65,340.50 403.90,340.49 404.15,340.49 404.40,340.48 404.65,340.47 404.90,340.45 405.15,340.42 405.40,340.38 405.65,340.31 405.90,340.23 406.15,340.11 406.40,339.97 406.65,339.79 406.90,339.59 407.15,339.35 407.40,339.10 407.65,338.85 407.90,338.60 408.15,338.37 408.40,338.17 408.65,337.99 408.90,337.83 409.15,337.68 409.40,337.50 409.65,337.24 409.90,336.84 410.15,336.21 410.40,335.23 410.65,333.78 410.90,331.72 411.15,328.96 411.40,325.49 411.65,321.42 411.90,317.00 412.15,312.61 412.40,308.74 412.65,305.88 412.90,304.43 413.15,304.51 413.40,305.79 413.65,308.09 413.90,311.18 414.15,314.77 414.40,318.57 414.65,322.30 414.90,325.74 415.15,328.75 415.40,331.27 415.65,333.30 415.90,334.88 416.15,336.08 416.40,336.98 416.65,337.65 416.90,338.15 417.15,338.54 417.40,338.85 417.65,339.10 417.90,339.31 418.15,339.49 418.40,339.64 418.65,339.78 418.90,339.90 419.15,340.00 419.40,340.09 419.65,340.16 419.90,340.22 420.15,340.28 420.40,340.32 420.65,340.36 420.90,340.39 421.15,340.41 421.40,340.43 421.65,340.45 421.90,340.46 422.15,340.47 422.40,340.48 422.65,340.48 422.90,340.49 423.15,340.49 423.40,340.49 423.65,340.49 423.90,340.50 424.15,340.50 424.40,340.50 424.65,340.50 424.90,340.49 425.15,340.49 425.40,340.48 425.65,340.46 425.90,340.44 426.15,340.41 426.40,340.36 426.65,340.30 426.90,340.23 427.15,340.14 427.40,340.03 427.65,339.92 427.90,339.80 428.15,339.69 428.40,339.60 428.65,339.54 428.90,339.50 429.15,339.51 429.40,339.55 429.65,339.62 429.90,339.71 430.15,339.82 430.40,339.94 430.65,340.05 430.90,340.15 431.15,340.24 431.40,340.31 431.65,340.36 431.90,340.39 432.15,340.40 432.40,340.39 432.65,340.36 432.90,340.31 433.15,340.23 433.40,340.13 433.65,339.99 433.90,339.82 434.15,339.62 434.40,339.39 434.65,339.15 434.90,338.89 435.15,338.65 435.40,338.42 435.65,338.22 435.90,338.05 436.15,337.89 436.40,337.74 436.65,337.55 436.90,337.27 437.15,336.83 437.40,336.12 437.65,335.05 437.90,333.51 438.15,331.43 438.40,328.79 438.65,325.67 438.90,322.27 439.15,318.90 439.40,315.91 439.65,313.71 439.90,312.59 440.15,312.66 440.40,313.65 440.65,315.43 440.90,317.82 441.15,320.60 441.40,323.54 441.65,326.42 441.90,329.08 442.15,331.41 442.40,333.36 442.65,334.93 442.90,336.16 443.15,337.08 443.40,337.78 443.65,338.30 443.90,338.69 444.15,338.98 444.40,339.22 444.65,339.41 444.90,339.58 445.15,339.72 445.40,339.84 445.65,339.94 445.90,340.03 446.15,340.11 446.40,340.18 446.65,340.24 446.90,340.29 447.15,340.33 447.40,340.36 447.65,340.39 447.90,340.41 448.15,340.43 448.40,340.45 448.65,340.46 448.90,340.47 449.15,340.48 449.40,340.48 449.65,340.49 449.90,340.49 450.15,340.49 450.40,340.49 450.65,340.50 450.90,340.50 451.15,340.50 451.40,340.50 451.65,340.50 451.90,340.50 452.15,340.50 452.40,340.50 452.65,340.50 452.90,340.50 453.15,340.50 453.40,340.50 453.65,340.50 453.90,340.50 454.15,340.50 454.40,340.50 454.65,340.50 454.90,340.50 455.15,340.50 455.40,340.50 455.65,340.50 455.90,340.50 456.15,340.50 456.40,340.50 456.65,340.50 456.90,340.49 457.15,340.49 457.40,340.48 457.65,340.46 457.90,340.44 458.15,340.41 458.40,340.36 458.65,340.30 458.90,340.22 459.15,340.13 459.40,340.02 459.65,339.90 459.90,339.78 460.15,339.66 460.40,339.56 460.65,339.48 460.90,339.43 461.15,339.41 461.40,339.43 461.65,339.47 461.90,339.53 462.15,339.59 462.40,339.66 462.65,339.71 462.90,339.74 463.15,339.74 463.40,339.70 463.65,339.62 463.90,339.47 464.15,339.23 464.40,338.87 464.65,338.34 464.90,337.62 465.15,336.67 465.40,335.48 465.65,334.10 465.90,332.60 466.15,331.11 466.40,329.80 466.65,328.84 466.90,328.34 467.15,328.37 467.40,328.80 467.65,329.58 467.90,330.62 468.15,331.83 468.40,333.11 468.65,334.37 468.90,335.52 469.15,336.54 469.40,337.39 469.65,338.07 469.90,338.61 470.15,339.01 470.40,339.31 470.65,339.54 470.90,339.71 471.15,339.84 471.40,339.94 471.65,340.03 471.90,340.10 472.15,340.16 472.40,340.21 472.65,340.26 472.90,340.30 473.15,340.33 473.40,340.36 473.65,340.39 473.90,340.41 474.15,340.42 474.40,340.44 474.65,340.45 474.90,340.46 475.15,340.47 475.40,340.48 475.65,340.48 475.90,340.49 476.15,340.49 476.40,340.49 476.65,340.49 476.90,340.50 477.15,340.50 477.40,340.50 477.65,340.50 477.90,340.50 478.15,340.50 478.40,340.50 478.65,340.50 478.90,340.50 479.15,340.50 479.40,340.50 479.65,340.50 479.90,340.50 480.15,340.50 480.40,340.50 480.65,340.50 480.90,340.50"/>
<polyline fill="none" stroke="#262626" stroke-width="1.0" stroke-linejoin="round" points="210.90,409.47 211.15,409.47 211.40,409.46 211.65,409.44 211.90,409.43 212.15,409.40 212.40,409.38 212.65,409.35 212.90,409.31 213.15,409.26 213.40,409.20 213.65,409.14 213.90,409.06 214.15,408.96 214.40,408.86 214.65,408.73 214.90,408.59 215.15,408.43 215.40,408.24 215.65,408.03 215.90,407.77 216.15,407.46 216.40,407.06 216.65,406.56 216.90,405.89 217.15,405.00 217.40,403.81 217.65,402.24 217.90,400.22 218.15,397.70 218.40,394.66 218.65,391.16 218.90,387.31 219.15,383.31 219.40,379.41 219.65,375.94 219.90,373.18 220.15,371.41 220.40,370.80 220.65,371.15 220.90,372.18 221.15,373.83 221.40,376.01 221.65,378.59 221.90,381.46 222.15,384.46 222.40,387.48 222.65,390.41 222.90,393.16 223.15,395.66 223.40,397.88 223.65,399.81 223.90,401.45 224.15,402.81 224.40,403.93 224.65,404.83 224.90,405.56 225.15,406.15 225.40,406.62 225.65,407.00 225.90,407.32 226.15,407.58 226.40,407.81 226.65,408.00 226.90,408.17 227.15,408.32 227.40,408.46 227.65,408.58 227.90,408.69 228.15,408.79 228.40,408.88 228.65,408.96 228.90,409.03 229.15,409.09 229.40,409.15 229.65,409.20 229.90,409.24 230.15,409.28 230.40,409.32 230.65,409.35 230.90,409.37 231.15,409.39 231.40,409.41 231.65,409.43 231.90,409.44 232.15,409.45 232.40,409.46 232.65,409.47 232.90,409.47 233.15,409.48 233.40,409.48 233.65,409.49 233.90,409.49 234.15,409.49 234.40,409.49 234.65,409.49 234.90,409.50 235.15,409.50 235.40,409.50 235.65,409.50 235.90,409.50 236.15,409.50 236.40,409.50 236.65,409.50 236.90,409.50 237.15,409.50 237.40,409.50 237.65,409.50 237.90,409.50 238.15,409.49 238.40,409.49 238.65,409.49 238.90,409.48 239.15,409.48 239.40,409.47 239.65,409.45 239.90,409.44 240.15,409.42 240.40,409.39 240.65,409.36 240.90,409.32 241.15,409.27 241.40,409.21 241.65,409.14 241.90,409.06 242.15,408.96 242.40,408.84 242.65,408.70 242.90,408.53 243.15,408.32 243.40,408.04 243.65,407.66 243.90,407.13 244.15,406.37 244.40,405.32 244.65,403.89 244.90,402.04 245.15,399.76 245.40,397.15 245.65,394.36 245.90,391.66 246.15,389.35 246.40,387.73 246.65,387.02 246.90,387.24 247.15,388.16 247.40,389.70 247.65,391.70 247.90,393.98 248.15,396.34 248.40,398.63 248.65,400.72 248.90,402.54 249.15,404.04 249.40,405.24 249.65,406.18 249.90,406.88 250.15,407.41 250.40,407.80 250.65,408.09 250.90,408.32 251.15,408.51 251.40,408.66 251.65,408.78 251.90,408.89 252.15,408.98 252.40,409.07 252.65,409.14 252.90,409.20 253.15,409.25 253.40,409.30 253.65,409.34 253.90,409.37 254.15,409.39 254.40,409.42 254.65,409.43 254.90,409.45 255.15,409.46 255.40,409.47 255.65,409.48 255.90,409.48 256.15,409.49 256.40,409.49 256.65,409.49 256.90,409.49 257.15,409.50 257.40,409.50 257.65,409.50 257.90,409.50 258.15,409.50 258.40,409.50 258.65,409.50 258.90,409.50 259.15,409.50 259.40,409.50 259.65,409.50 259.90,409.50 260.15,409.50 260.40,409.49 260.65,409.49 260.90,409.49 261.15,409.48 261.40,409.47 261.65,409.46 261.90,409.45 262.15,409.43 262.40,409.41 262.65,409.39 262.90,409.35 263.15,409.31 263.40,409.26 263.65,409.20 263.90,409.13 264.15,409.04 264.40,408.94 264.65,408.82 264.90,408.68 265.15,408.50 265.40,408.27 265.65,407.96 265.90,407.54 266.15,406.93 266.40,406.08 266.65,404.91 266.90,403.37 267.15,401.42 267.40,399.13 267.65,396.60 267.90,394.06 268.15,391.75 268.40,389.98 268.65,388.97 268.90,388.85 269.15,389.46 269.40,390.66 269.65,392.35 269.90,394.36 270.15,396.53 270.40,398.67 270.65,400.68 270.90,402.46 271.15,403.96 271.40,405.17 271.65,406.13 271.90,406.85 272.15,407.40 272.40,407.80 272.65,408.11 272.90,408.34 273.15,408.52 273.40,408.67 273.65,408.80 273.90,408.90 274.15,408.99 274.40,409.07 274.65,409.14 274.90,409.20 275.15,409.25 275.40,409.30 275.65,409.34 275.90,409.37 276.15,409.39 276.40,409.42 276.65,409.43 276.90,409.45 277.15,409.46 277.40,409.47 277.65,409.48 277.90,409.48 278.15,409.49 278.40,409.49 278.65,409.49 278.90,409.49 279.15,409.50 279.40,409.50 279.65,409.50 279.90,409.50 280.15,409.50 280.40,409.50 280.65,409.50 280.90,409.50 281.15,409.50 281.40,409.50 281.65,409.50 281.90,409.50 282.15,409.50 282.40,409.50 282.65,409.50 282.90,409.50 283.15,409.50 283.40,409.50 283.65,409.50 283.90,409.50 284.15,409.50 284.40,409.50 284.65,409.50 284.90,409.50 285.15,409.50 285.40,409.50 285.65,409.50 285.90,409.50 286.15,409.50 286.40,409.50 286.65,409.50 286.90,409.50 287.15,409.50 287.40,409.50 287.65,409.50 287.90,409.50 288.15,409.50 288.40,409.50 288.65,409.50 288.90,409.50 289.15,409.50 289.40,409.50 289.65,409.50 289.90,409.50 290.15,409.50 290.40,409.50 290.65,409.50 290.90,409.50 291.15,409.50 291.40,409.50 291.65,409.49 291.90,409.49 292.15,409.49 292.40,409.48 292.65,409.47 292.90,409.47 293.15,409.45 293.40,409.44 293.65,409.42 293.90,409.39 294.15,409.36 294.40,409.32 294.65,409.27 294.90,409.21 295.15,409.14 295.40,409.06 295.65,408.96 295.90,408.85 296.15,408.71 296.40,408.54 296.65,408.33 296.90,408.04 297.15,407.64 297.40,407.08 297.65,406.29 297.90,405.19 298.15,403.73 298.40,401.88 298.65,399.66 298.90,397.18 299.15,394.63 299.40,392.27 299.65,390.37 299.90,389.20 300.15,388.91 300.40,389.38 300.65,390.47 300.90,392.07 301.15,394.02 301.40,396.15 301.65,398.31 301.90,400.34 302.15,402.16 302.40,403.71 302.65,404.97 302.90,405.97 303.15,406.74 303.40,407.31 303.65,407.74 303.90,408.06 304.15,408.30 304.40,408.49 304.65,408.65 304.90,408.78 305.15,408.88 305.40,408.98 305.65,409.06 305.90,409.13 306.15,409.19 306.40,409.24 306.65,409.29 306.90,409.33 307.15,409.36 307.40,409.39 307.65,409.41 307.90,409.43 308.15,409.45 308.40,409.46 308.65,409.47 308.90,409.47 309.15,409.48 309.40,409.49 309.65,409.49 309.90,409.49 310.15,409.49 310.40,409.50 310.65,409.50 310.90,409.50 311.15,409.50 311.40,409.50 311.65,409.50 311.90,409.50 312.15,409.50 312.40,409.50 312.65,409.50 312.90,409.50 313.15,409.50 313.40,409.50 313.65,409.50 313.90,409.50 314.15,409.50 314.40,409.50 314.65,409.50 314.90,409.50 315.15,409.50 315.40,409.50 315.65,409.50 315.90,409.50 316.15,409.50 316.40,409.50 316.65,409.50 316.90,409.50 317.15,409.50 317.40,409.50 317.65,409.50 317.90,409.50 318.15,409.50 318.40,409.50 318.65,409.50 318.90,409.49 319.15,409.49 319.40,409.49 319.65,409.48 319.90,409.48 320.15,409.47 320.40,409.46 320.65,409.44 320.90,409.42 321.15,409.40 321.40,409.36 321.65,409.32 321.90,409.27 322.15,409.22 322.40,409.14 322.65,409.06 322.90,408.96 323.15,408.84 323.40,408.70 323.65,408.53 323.90,408.32 324.15,408.05 324.40,407.68 324.65,407.16 324.90,406.43 325.15,405.40 325.40,404.00 325.65,402.16 325.90,399.88 326.15,397.22 326.40,394.34 326.65,391.49 326.90,388.98 327.15,387.13 327.40,386.19 327.65,386.24 327.90,387.06 328.15,388.55 328.40,390.55 328.65,392.87 328.90,395.33 329.15,397.73 329.40,399.96 329.65,401.90 329.90,403.54 330.15,404.85 330.40,405.87 330.65,406.65 330.90,407.23 331.15,407.66 331.40,407.98 331.65,408.23 331.90,408.43 332.15,408.59 332.40,408.73 332.65,408.84 332.90,408.95 333.15,409.03 333.40,409.11 333.65,409.18 333.90,409.23 334.15,409.28 334.40,409.32 334.65,409.36 334.90,409.38 335.15,409.41 335.40,409.43 335.65,409.44 335.90,409.46 336.15,409.47 336.40,409.47 336.65,409.48 336.90,409.49 337.15,409.49 337.40,409.49 337.65,409.49 337.90,409.50 338.15,409.50 338.40,409.50 338.65,409.50 338.90,409.50 339.15,409.50 339.40,409.50 339.65,409.50 339.90,409.50 340.15,409.50 340.40,409.50 340.65,409.50 340.90,409.50 341.15,409.50 341.40,409.50 341.65,409.50 341.90,409.50 342.15,409.50 342.40,409.50 342.65,409.50 342.90,409.50 343.15,409.50 343.40,409.50 343.65,409.50 343.90,409.50 344.15,409.50 344.40,409.50 344.65,409.50 344.90,409.50 345.15,409.50 345.40,409.50 345.65,409.50 345.90,409.50 346.15,409.50 346.40,409.50 346.65,409.50 346.90,409.50 347.15,409.50 347.40,409.50 347.65,409.50 347.90,409.50 348.15,409.50 348.40,409.50 348.65,409.50 348.90,409.50 349.15,409.50 349.40,409.50 349.65,409.49 349.90,409.49 350.15,409.49 350.40,409.48 350.65,409.48 350.90,409.47 351.15,409.46 351.40,409.45 351.65,409.43 351.90,409.41 352.15,409.38 352.40,409.35 352.65,409.31 352.90,409.27 353.15,409.21 353.40,409.15 353.65,409.07 353.90,408.98 354.15,408.87 354.40,408.73 354.65,408.55 354.90,408.31 355.15,407.97 355.40,407.49 355.65,406.82 355.90,405.90 356.15,404.70 356.40,403.21 356.65,401.47 356.90,399.59 357.15,397.72 357.40,396.08 357.65,394.87 357.90,394.26 358.15,394.29 358.40,394.83 358.65,395.80 358.90,397.11 359.15,398.63 359.40,400.23 359.65,401.81 359.90,403.26 360.15,404.53 360.40,405.60 360.65,406.46 360.90,407.13 361.15,407.63 361.40,408.01 361.65,408.30 361.90,408.51 362.15,408.67 362.40,408.80 362.65,408.91 362.90,409.00 363.15,409.07 363.40,409.14 363.65,409.19 363.90,409.24 364.15,409.29 364.40,409.32 364.65,409.36 364.90,409.38 365.15,409.41 365.40,409.42 365.65,409.44 365.90,409.45 366.15,409.46 366.40,409.47 366.65,409.48 366.90,409.48 367.15,409.49 367.40,409.49 367.65,409.49 367.90,409.49 368.15,409.50 368.40,409.50 368.65,409.50 368.90,409.50 369.15,409.50 369.40,409.50 369.65,409.50 369.90,409.50 370.15,409.49 370.40,409.49 370.65,409.49 370.90,409.49 371.15,409.48 371.40,409.47 371.65,409.47 371.90,409.45 372.15,409.44 372.40,409.42 372.65,409.40 372.90,409.37 373.15,409.33 373.40,409.29 373.65,409.24 373.90,409.18 374.15,409.11 374.40,409.03 374.65,408.93 374.90,408.81 375.15,408.65 375.40,408.43 375.65,408.13 375.90,407.70 376.15,407.10 376.40,406.28 376.65,405.20 376.90,403.87 377.15,402.31 377.40,400.62 377.65,398.96 377.90,397.49 378.15,396.40 378.40,395.85 378.65,395.88 378.90,396.36 379.15,397.23 379.40,398.40 379.65,399.76 379.90,401.20 380.15,402.61 380.40,403.91 380.65,405.05 380.90,406.01 381.15,406.78 381.40,407.37 381.65,407.83 381.90,408.17 382.15,408.42 382.40,408.61 382.65,408.76 382.90,408.87 383.15,408.97 383.40,409.05 383.65,409.12 383.90,409.18 384.15,409.23 384.40,409.27 384.65,409.31 384.90,409.34 385.15,409.37 385.40,409.40 385.65,409.42 385.90,409.43 386.15,409.45 386.40,409.46 386.65,409.47 386.90,409.47 387.15,409.48 387.40,409.48 387.65,409.49 387.90,409.49 388.15,409.49 388.40,409.50 388.65,409.50 388.90,409.50 389.15,409.50 389.40,409.50 389.65,409.50 389.90,409.50 390.15,409.50 390.40,409.50 390.65,409.50 390.90,409.50 391.15,409.50 391.40,409.50 391.65,409.50 391.90,409.50 392.15,409.50 392.40,409.50 392.65,409.50 392.90,409.50 393.15,409.50 393.40,409.50 393.65,409.50 393.90,409.50 394.15,409.50 394.40,409.50 394.65,409.50 394.90,409.50 395.15,409.50 395.40,409.50 395.65,409.50 395.90,409.50 396.15,409.50 396.40,409.50 396.65,409.50 396.90,409.50 397.15,409.50 397.40,409.50 397.65,409.50 397.90,409.50 398.15,409.50 398.40,409.50 398.65,409.50 398.90,409.50 399.15,409.50 399.40,409.50 399.65,409.50 399.90,409.50 400.15,409.50 400.40,409.50 400.65,409.50 400.90,409.49 401.15,409.49 401.40,409.48 401.65,409.47 401.90,409.45 402.15,409.42 402.40,409.37 402.65,409.31 402.90,409.22 403.15,409.11 403.40,408.97 403.65,408.81 403.90,408.62 404.15,408.41 404.40,408.21 404.65,408.01 404.90,407.83 405.15,407.69 405.40,407.59 405.65,407.54 405.90,407.52 406.15,407.53 406.40,407.55 406.65,407.57 406.90,407.57 407.15,407.52 407.40,407.39 407.65,407.17 407.90,406.80 408.15,406.25 408.40,405.45 408.65,404.35 408.90,402.90 409.15,401.04 409.40,398.78 409.65,396.16 409.90,393.28 410.15,390.32 410.40,387.48 410.65,385.03 410.90,383.19 411.15,382.17 411.40,382.04 411.65,382.53 411.90,383.52 412.15,384.96 412.40,386.76 412.65,388.81 412.90,391.02 413.15,393.26 413.40,395.46 413.65,397.53 413.90,399.42 414.15,401.09 414.40,402.54 414.65,403.76 414.90,404.77 415.15,405.59 415.40,406.25 415.65,406.77 415.90,407.19 416.15,407.53 416.40,407.79 416.65,408.02 416.90,408.20 417.15,408.36 417.40,408.49 417.65,408.61 417.90,408.72 418.15,408.81 418.40,408.90 418.65,408.97 418.90,409.04 419.15,409.10 419.40,409.16 419.65,409.20 419.90,409.25 420.15,409.29 420.40,409.32 420.65,409.35 420.90,409.37 421.15,409.39 421.40,409.41 421.65,409.43 421.90,409.44 422.15,409.45 422.40,409.46 422.65,409.47 422.90,409.47 423.15,409.48 423.40,409.48 423.65,409.49 423.90,409.49 424.15,409.49 424.40,409.49 424.65,409.49 424.90,409.50 425.15,409.50 425.40,409.50 425.65,409.50 425.90,409.50 426.15,409.50 426.40,409.50 426.65,409.50 426.90,409.50 427.15,409.50 427.40,409.50 427.65,409.50 427.90,409.50 428.15,409.49 428.40,409.49 428.65,409.48 428.90,409.47 429.15,409.46 429.40,409.44 429.65,409.40 429.90,409.35 430.15,409.29 430.40,409.19 430.65,409.07 430.90,408.93 431.15,408.75 431.40,408.55 431.65,408.33 431.90,408.11 432.15,407.89 432.40,407.70 432.65,407.53 432.90,407.41 433.15,407.33 433.40,407.28 433.65,407.25 433.90,407.23 434.15,407.18 434.40,407.07 434.65,406.87 434.90,406.52 435.15,405.98 435.40,405.19 435.65,404.08 435.90,402.61 436.15,400.75 436.40,398.51 436.65,395.96 436.90,393.23 437.15,390.48 437.40,387.95 437.65,385.86 437.90,384.43 438.15,383.82 438.40,383.96 438.65,384.61 438.90,385.71 439.15,387.20 439.40,388.99 439.65,390.98 439.90,393.06 440.15,395.15 440.40,397.17 440.65,399.04 440.90,400.73 441.15,402.21 441.40,403.47 441.65,404.53 441.90,405.40 442.15,406.11 442.40,406.67 442.65,407.12 442.90,407.48 443.15,407.76 443.40,407.99 443.65,408.19 443.90,408.35 444.15,408.48 444.40,408.60 444.65,408.71 444.90,408.80 445.15,408.89 445.40,408.97 445.65,409.03 445.90,409.09 446.15,409.15 446.40,409.20 446.65,409.24 446.90,409.28 447.15,409.31 447.40,409.34 447.65,409.37 447.90,409.39 448.15,409.41 448.40,409.42 448.65,409.44 448.90,409.45 449.15,409.46 449.40,409.46 449.65,409.47 449.90,409.48 450.15,409.48 450.40,409.49 450.65,409.49 450.90,409.49 451.15,409.49 451.40,409.49 451.65,409.50 451.90,409.50 452.15,409.50 452.40,409.50 452.65,409.50 452.90,409.50 453.15,409.50 453.40,409.50 453.65,409.50 453.90,409.50 454.15,409.50 454.40,409.50 454.65,409.50 454.90,409.49 455.15,409.49 455.40,409.48 455.65,409.46 455.90,409.44 456.15,409.41 456.40,409.36 456.65,409.30 456.90,409.22 457.15,409.13 457.40,409.02 457.65,408.91 457.90,408.79 458.15,408.67 458.40,408.57 458.65,408.50 458.90,408.46 459.15,408.45 459.40,408.47 459.65,408.52 459.90,408.59 460.15,408.67 460.40,408.75 460.65,408.81 460.90,408.87 461.15,408.89 461.40,408.89 461.65,408.86 461.90,408.78 462.15,408.64 462.40,408.42 462.65,408.11 462.90,407.65 463.15,407.03 463.40,406.21 463.65,405.21 463.90,404.06 464.15,402.84 464.40,401.65 464.65,400.64 464.90,399.92 465.15,399.61 465.40,399.70 465.65,400.11 465.90,400.79 466.15,401.67 466.40,402.67 466.65,403.71 466.90,404.72 467.15,405.64 467.40,406.44 467.65,407.10 467.90,407.63 468.15,408.04 468.40,408.35 468.65,408.58 468.90,408.75 469.15,408.88 469.40,408.98 469.65,409.06 469.90,409.13 470.15,409.18 470.40,409.23 470.65,409.27 470.90,409.31 471.15,409.34 471.40,409.37 471.65,409.39 471.90,409.41 472.15,409.43 472.40,409.44 472.65,409.45 472.90,409.46 473.15,409.47 473.40,409.48 473.65,409.48 473.90,409.49 474.15,409.49 474.40,409.49 474.65,409.49 474.90,409.50 475.15,409.50 475.40,409.50 475.65,409.50 475.90,409.50 476.15,409.50 476.40,409.50 476.65,409.50 476.90,409.50 477.15,409.50 477.40,409.50 477.65,409.50 477.90,409.50 478.15,409.50 478.40,409.50 478.65,409.50"/>
<polyline fill="none" stroke="#262626" stroke-width="1.0" stroke-linejoin="round" points="210.90,475.50 211.15,475.50 211.40,475.50 211.65,475.49 211.90,475.49 212.15,475.49 212.40,475.48 212.65,475.48 212.90,475.47 213.15,475.46 213.40,475.45 213.65,475.43 213.90,475.41 214.15,475.39 214.40,475.35 214.65,475.31 214.90,475.27 215.15,475.21 215.40,475.14 215.65,475.06 215.90,474.96 216.15,474.84 216.40,474.71 216.65,474.56 216.90,474.39 217.15,474.18 217.40,473.94 217.65,473.66 217.90,473.30 218.15,472.85 218.40,472.25 218.65,471.45 218.90,470.37 219.15,468.91 219.40,466.99 219.65,464.53 219.90,461.49 220.15,457.91 220.40,453.90 220.65,449.65 220.90,445.46 221.15,441.67 221.40,438.64 221.65,436.68 221.90,436.00 222.15,436.39 222.40,437.53 222.65,439.36 222.90,441.75 223.15,444.57 223.40,447.67 223.65,450.89 223.90,454.08 224.15,457.14 224.40,459.96 224.65,462.50 224.90,464.71 225.15,466.59 225.40,468.16 225.65,469.44 225.90,470.48 226.15,471.30 226.40,471.96 226.65,472.48 226.90,472.91 227.15,473.25 227.40,473.53 227.65,473.77 227.90,473.98 228.15,474.16 228.40,474.32 228.65,474.46 228.90,474.59 229.15,474.70 229.40,474.80 229.65,474.89 229.90,474.98 230.15,475.05 230.40,475.11 230.65,475.17 230.90,475.22 231.15,475.26 231.40,475.30 231.65,475.33 231.90,475.36 232.15,475.38 232.40,475.40 232.65,475.42 232.90,475.44 233.15,475.45 233.40,475.46 233.65,475.47 233.90,475.47 234.15,475.48 234.40,475.48 234.65,475.49 234.90,475.49 235.15,475.49 235.40,475.49 235.65,475.49 235.90,475.50 236.15,475.50 236.40,475.50 236.65,475.50 236.90,475.50 237.15,475.50 237.40,475.50 237.65,475.50 237.90,475.50 238.15,475.50 238.40,475.50 238.65,475.50 238.90,475.50 239.15,475.50 239.40,475.50 239.65,475.50 239.90,475.50 240.15,475.49 240.40,475.49 240.65,475.49 240.90,475.48 241.15,475.47 241.40,475.46 241.65,475.45 241.90,475.43 242.15,475.41 242.40,475.38 242.65,475.35 242.90,475.30 243.15,475.25 243.40,475.18 243.65,475.10 243.90,475.01 244.15,474.90 244.40,474.76 244.65,474.61 244.90,474.42 245.15,474.18 245.40,473.87 245.65,473.45 245.90,472.86 246.15,472.01 246.40,470.84 246.65,469.24 246.90,467.18 247.15,464.64 247.40,461.72 247.65,458.61 247.90,455.60 248.15,453.03 248.40,451.21 248.65,450.42 248.90,450.66 249.15,451.70 249.40,453.42 249.65,455.65 249.90,458.18 250.15,460.82 250.40,463.38 250.65,465.71 250.90,467.73 251.15,469.41 251.40,470.75 251.65,471.79 251.90,472.58 252.15,473.16 252.40,473.60 252.65,473.93 252.90,474.19 253.15,474.39 253.40,474.56 253.65,474.70 253.90,474.82 254.15,474.92 254.40,475.02 254.65,475.10 254.90,475.16 255.15,475.22 255.40,475.27 255.65,475.32 255.90,475.35 256.15,475.38 256.40,475.41 256.65,475.43 256.90,475.44 257.15,475.46 257.40,475.47 257.65,475.47 257.90,475.48 258.15,475.49 258.40,475.49 258.65,475.49 258.90,475.49 259.15,475.50 259.40,475.50 259.65,475.50 259.90,475.50 260.15,475.50 260.40,475.50 260.65,475.50 260.90,475.50 261.15,475.50 261.40,475.50 261.65,475.50 261.90,475.50 262.15,475.49 262.40,475.49 262.65,475.49 262.90,475.48 263.15,475.48 263.40,475.47 263.65,475.46 263.90,475.44 264.15,475.42 264.40,475.40 264.65,475.37 264.90,475.33 265.15,475.28 265.40,475.23 265.65,475.16 265.90,475.08 266.15,474.98 266.40,474.87 266.65,474.74 266.90,474.58 267.15,474.37 267.40,474.11 267.65,473.74 267.90,473.23 268.15,472.51 268.40,471.51 268.65,470.14 268.90,468.37 269.15,466.20 269.40,463.70 269.65,461.04 269.90,458.46 270.15,456.25 270.40,454.70 270.65,454.02 270.90,454.22 271.15,455.11 271.40,456.58 271.65,458.49 271.90,460.67 272.15,462.93 272.40,465.11 272.65,467.11 272.90,468.84 273.15,470.28 273.40,471.43 273.65,472.32 273.90,473.00 274.15,473.50 274.40,473.87 274.65,474.16 274.90,474.38 275.15,474.55 275.40,474.69 275.65,474.81 275.90,474.92 276.15,475.01 276.40,475.09 276.65,475.15 276.90,475.21 277.15,475.26 277.40,475.31 277.65,475.34 277.90,475.37 278.15,475.40 278.40,475.42 278.65,475.44 278.90,475.45 279.15,475.46 279.40,475.47 279.65,475.48 279.90,475.48 280.15,475.49 280.40,475.49 280.65,475.49 280.90,475.49 281.15,475.50 281.40,475.50 281.65,475.50 281.90,475.50 282.15,475.50 282.40,475.50 282.65,475.50 282.90,475.50 283.15,475.50 283.40,475.50 283.65,475.50 283.90,475.50 284.15,475.50 284.40,475.50 284.65,475.50 284.90,475.50 285.15,475.50 285.40,475.50 285.65,475.50 285.90,475.50 286.15,475.50 286.40,475.50 286.65,475.50 286.90,475.50 287.15,475.50 287.40,475.50 287.65,475.50 287.90,475.50 288.15,475.50 288.40,475.50 288.65,475.50 288.90,475.50 289.15,475.50 289.40,475.50 289.65,475.50 289.90,475.50 290.15,475.50 290.40,475.50 290.65,475.50 290.90,475.50 291.15,475.50 291.40,475.50 291.65,475.50 291.90,475.50 292.15,475.50 292.40,475.50 292.65,475.50 292.90,475.50 293.15,475.49 293.40,475.49 293.65,475.49 293.90,475.48 294.15,475.48 294.40,475.47 294.65,475.46 294.90,475.44 295.15,475.42 295.40,475.39 295.65,475.36 295.90,475.32 296.15,475.27 296.40,475.21 296.65,475.14 296.90,475.05 297.15,474.95 297.40,474.83 297.65,474.68 297.90,474.51 298.15,474.30 298.40,474.03 298.65,473.66 298.90,473.15 299.15,472.42 299.40,471.40 299.65,470.00 299.90,468.15 300.15,465.82 300.40,463.07 300.65,460.05 300.90,457.00 301.15,454.24 301.40,452.11 301.65,450.90 301.90,450.77 302.15,451.49 302.40,452.93 302.65,454.95 302.90,457.37 303.15,459.96 303.40,462.53 303.65,464.94 303.90,467.06 304.15,468.86 304.40,470.32 304.65,471.46 304.90,472.33 305.15,472.98 305.40,473.47 305.65,473.83 305.90,474.11 306.15,474.33 306.40,474.51 306.65,474.66 306.90,474.78 307.15,474.89 307.40,474.99 307.65,475.07 307.90,475.14 308.15,475.20 308.40,475.26 308.65,475.30 308.90,475.34 309.15,475.37 309.40,475.40 309.65,475.42 309.90,475.44 310.15,475.45 310.40,475.46 310.65,475.47 310.90,475.48 311.15,475.48 311.40,475.49 311.65,475.49 311.90,475.49 312.15,475.50 312.40,475.50 312.65,475.50 312.90,475.50 313.15,475.50 313.40,475.50 313.65,475.50 313.90,475.50 314.15,475.50 314.40,475.50 314.65,475.50 314.90,475.50 315.15,475.50 315.40,475.50 315.65,475.50 315.90,475.50 316.15,475.50 316.40,475.50 316.65,475.50 316.90,475.50 317.15,475.50 317.40,475.50 317.65,475.50 317.90,475.50 318.15,475.50 318.40,475.50 318.65,475.50 318.90,475.50 319.15,475.50 319.40,475.50 319.65,475.50 319.90,475.50 320.15,475.50 320.40,475.50 320.65,475.49 320.90,475.49 321.15,475.49 321.40,475.49 321.65,475.48 321.90,475.47 322.15,475.46 322.40,475.45 322.65,475.43 322.90,475.41 323.15,475.38 323.40,475.34 323.65,475.29 323.90,475.24 324.15,475.17 324.40,475.09 324.65,474.99 324.90,474.88 325.15,474.74 325.40,474.58 325.65,474.39 325.90,474.14 326.15,473.81 326.40,473.36 326.65,472.73 326.90,471.84 327.15,470.59 327.40,468.92 327.65,466.78 327.90,464.17 328.15,461.22 328.40,458.13 328.65,455.20 328.90,452.78 329.15,451.16 329.40,450.60 329.65,451.01 329.90,452.18 330.15,454.00 330.40,456.29 330.65,458.84 330.90,461.46 331.15,463.96 331.40,466.21 331.65,468.15 331.90,469.75 332.15,471.02 332.40,472.00 332.65,472.73 332.90,473.28 333.15,473.69 333.40,474.00 333.65,474.24 333.90,474.44 334.15,474.60 334.40,474.73 334.65,474.85 334.90,474.95 335.15,475.04 335.40,475.11 335.65,475.18 335.90,475.24 336.15,475.28 336.40,475.33 336.65,475.36 336.90,475.39 337.15,475.41 337.40,475.43 337.65,475.45 337.90,475.46 338.15,475.47 338.40,475.48 338.65,475.48 338.90,475.49 339.15,475.49 339.40,475.49 339.65,475.49 339.90,475.50 340.15,475.50 340.40,475.50 340.65,475.50 340.90,475.50 341.15,475.50 341.40,475.50 341.65,475.50 341.90,475.50 342.15,475.50 342.40,475.50 342.65,475.50 342.90,475.50 343.15,475.50 343.40,475.50 343.65,475.50 343.90,475.50 344.15,475.50 344.40,475.50 344.65,475.50 344.90,475.50 345.15,475.50 345.40,475.50 345.65,475.50 345.90,475.50 346.15,475.50 346.40,475.50 346.65,475.50 346.90,475.50 347.15,475.50 347.40,475.50 347.65,475.50 347.90,475.50 348.15,475.50 348.40,475.50 348.65,475.50 348.90,475.50 349.15,475.50 349.40,475.50 349.65,475.50 349.90,475.50 350.15,475.50 350.40,475.50 350.65,475.50 350.90,475.50 351.15,475.49 351.40,475.49 351.65,475.49 351.90,475.48 352.15,475.47 352.40,475.47 352.65,475.45 352.90,475.44 353.15,475.42 353.40,475.40 353.65,475.37 353.90,475.33 354.15,475.29 354.40,475.23 354.65,475.17 354.90,475.10 355.15,475.01 355.40,474.91 355.65,474.78 355.90,474.63 356.15,474.42 356.40,474.13 356.65,473.72 356.90,473.15 357.15,472.35 357.40,471.27 357.65,469.89 357.90,468.22 358.15,466.33 358.40,464.34 358.65,462.46 358.90,460.90 359.15,459.86 359.40,459.50 359.65,459.76 359.90,460.51 360.15,461.69 360.40,463.16 360.65,464.80 360.90,466.48 361.15,468.08 361.40,469.53 361.65,470.78 361.90,471.81 362.15,472.62 362.40,473.25 362.65,473.72 362.90,474.07 363.15,474.34 363.40,474.54 363.65,474.69 363.90,474.82 364.15,474.92 364.40,475.01 364.65,475.08 364.90,475.15 365.15,475.20 365.40,475.25 365.65,475.29 365.90,475.33 366.15,475.36 366.40,475.39 366.65,475.41 366.90,475.43 367.15,475.44 367.40,475.46 367.65,475.47 367.90,475.47 368.15,475.48 368.40,475.48 368.65,475.49 368.90,475.49 369.15,475.49 369.40,475.49 369.65,475.50 369.90,475.50 370.15,475.50 370.40,475.50 370.65,475.50 370.90,475.50 371.15,475.50 371.40,475.50 371.65,475.50 371.90,475.49 372.15,475.49 372.40,475.49 372.65,475.49 372.90,475.48 373.15,475.47 373.40,475.46 373.65,475.45 373.90,475.44 374.15,475.42 374.40,475.39 374.65,475.36 374.90,475.32 375.15,475.28 375.40,475.22 375.65,475.16 375.90,475.08 376.15,474.99 376.40,474.88 376.65,474.75 376.90,474.58 377.15,474.36 377.40,474.06 377.65,473.63 377.90,473.03 378.15,472.19 378.40,471.06 378.65,469.61 378.90,467.86 379.15,465.87 379.40,463.78 379.65,461.81 379.90,460.17 380.15,459.08 380.40,458.70 380.65,458.97 380.90,459.77 381.15,460.99 381.40,462.54 381.65,464.26 381.90,466.03 382.15,467.71 382.40,469.23 382.65,470.54 382.90,471.62 383.15,472.48 383.40,473.14 383.65,473.63 383.90,474.00 384.15,474.28 384.40,474.49 384.65,474.65 384.90,474.78 385.15,474.89 385.40,474.98 385.65,475.06 385.90,475.13 386.15,475.19 386.40,475.24 386.65,475.28 386.90,475.32 387.15,475.35 387.40,475.38 387.65,475.41 387.90,475.42 388.15,475.44 388.40,475.45 388.65,475.46 388.90,475.47 389.15,475.48 389.40,475.48 389.65,475.49 389.90,475.49 390.15,475.49 390.40,475.49 390.65,475.50 390.90,475.50 391.15,475.50 391.40,475.50 391.65,475.50 391.90,475.50 392.15,475.50 392.40,475.50 392.65,475.50 392.90,475.50 393.15,475.50 393.40,475.50 393.65,475.50 393.90,475.50 394.15,475.50 394.40,475.50 394.65,475.50 394.90,475.50 395.15,475.50 395.40,475.50 395.65,475.50 395.90,475.50 396.15,475.50 396.40,475.50 396.65,475.50 396.90,475.50 397.15,475.50 397.40,475.50 397.65,475.50 397.90,475.50 398.15,475.50 398.40,475.50 398.65,475.50 398.90,475.50 399.15,475.50 399.40,475.50 399.65,475.50 399.90,475.50 400.15,475.50 400.40,475.50 400.65,475.50 400.90,475.50 401.15,475.50 401.40,475.50 401.65,475.49 401.90,475.49 402.15,475.48 402.40,475.47 402.65,475.45 402.90,475.41 403.15,475.36 403.40,475.29 403.65,475.20 403.90,475.09 404.15,474.95 404.40,474.78 404.65,474.61 404.90,474.43 405.15,474.26 405.40,474.11 405.65,473.99 405.90,473.92 406.15,473.90 406.40,473.92 406.65,473.98 406.90,474.07 407.15,474.17 407.40,474.26 407.65,474.34 407.90,474.37 408.15,474.37 408.40,474.32 408.65,474.21 408.90,474.04 409.15,473.79 409.40,473.44 409.65,472.93 409.90,472.21 410.15,471.17 410.40,469.72 410.65,467.75 410.90,465.19 411.15,462.04 411.40,458.43 411.65,454.58 411.90,450.85 412.15,447.65 412.40,445.41 412.65,444.43 412.90,444.73 413.15,446.01 413.40,448.14 413.65,450.90 413.90,454.05 414.15,457.31 414.40,460.48 414.65,463.37 414.90,465.87 415.15,467.95 415.40,469.62 415.65,470.90 415.90,471.88 416.15,472.61 416.40,473.15 416.65,473.56 416.90,473.87 417.15,474.13 417.40,474.33 417.65,474.51 417.90,474.66 418.15,474.79 418.40,474.90 418.65,475.00 418.90,475.08 419.15,475.16 419.40,475.22 419.65,475.27 419.90,475.32 420.15,475.35 420.40,475.38 420.65,475.41 420.90,475.43 421.15,475.44 421.40,475.46 421.65,475.47 421.90,475.48 422.15,475.48 422.40,475.49 422.65,475.49 422.90,475.49 423.15,475.49 423.40,475.50 423.65,475.50 423.90,475.50 424.15,475.50 424.40,475.50 424.65,475.50 424.90,475.50 425.15,475.50 425.40,475.50 425.65,475.50 425.90,475.50 426.15,475.50 426.40,475.50 426.65,475.50 426.90,475.50 427.15,475.50 427.40,475.50 427.65,475.50 427.90,475.50 428.15,475.50 428.40,475.50 428.65,475.49 428.90,475.49 429.15,475.48 429.40,475.47 429.65,475.44 429.90,475.41 430.15,475.36 430.40,475.29 430.65,475.20 430.90,475.09 431.15,474.95 431.40,474.78 431.65,474.61 431.90,474.43 432.15,474.25 432.40,474.10 432.65,473.99 432.90,473.92 433.15,473.89 433.40,473.92 433.65,473.98 433.90,474.07 434.15,474.16 434.40,474.26 434.65,474.33 434.90,474.37 435.15,474.36 435.40,474.31 435.65,474.20 435.90,474.03 436.15,473.77 436.40,473.39 436.65,472.86 436.90,472.08 437.15,470.97 437.40,469.43 437.65,467.38 437.90,464.77 438.15,461.65 438.40,458.15 438.65,454.56 438.90,451.24 439.15,448.57 439.40,446.92 439.65,446.52 439.90,447.18 440.15,448.71 440.40,450.96 440.65,453.71 440.90,456.71 441.15,459.74 441.40,462.61 441.65,465.17 441.90,467.35 442.15,469.13 442.40,470.53 442.65,471.61 442.90,472.42 443.15,473.02 443.40,473.47 443.65,473.82 443.90,474.08 444.15,474.30 444.40,474.48 444.65,474.63 444.90,474.76 445.15,474.88 445.40,474.98 445.65,475.07 445.90,475.14 446.15,475.21 446.40,475.26 446.65,475.31 446.90,475.34 447.15,475.38 447.40,475.40 447.65,475.42 447.90,475.44 448.15,475.45 448.40,475.46 448.65,475.47 448.90,475.48 449.15,475.48 449.40,475.49 449.65,475.49 449.90,475.49 450.15,475.50 450.40,475.50 450.65,475.50 450.90,475.50 451.15,475.50 451.40,475.50 451.65,475.50 451.90,475.50 452.15,475.50 452.40,475.50 452.65,475.50 452.90,475.50 453.15,475.50 453.40,475.50 453.65,475.50 453.90,475.50 454.15,475.50 454.40,475.50 454.65,475.50 454.90,475.50 455.15,475.50 455.40,475.50 455.65,475.50 455.90,475.49 456.15,475.49 456.40,475.48 456.65,475.47 456.90,475.45 457.15,475.43 457.40,475.39 457.65,475.34 457.90,475.28 458.15,475.21 458.40,475.12 458.65,475.03 458.90,474.93 459.15,474.84 459.40,474.77 459.65,474.71 459.90,474.68 460.15,474.67 460.40,474.69 460.65,474.74 460.90,474.80 461.15,474.87 461.40,474.93 461.65,475.00 461.90,475.04 462.15,475.07 462.40,475.08 462.65,475.07 462.90,475.04 463.15,474.98 463.40,474.88 463.65,474.73 463.90,474.52 464.15,474.22 464.40,473.79 464.65,473.21 464.90,472.45 465.15,471.52 465.40,470.45 465.65,469.31 465.90,468.21 466.15,467.26 466.40,466.60 466.65,466.31 466.90,466.40 467.15,466.78 467.40,467.41 467.65,468.22 467.90,469.15 468.15,470.12 468.40,471.06 468.65,471.91 468.90,472.65 469.15,473.27 469.40,473.76 469.65,474.14 469.90,474.43 470.15,474.64 470.40,474.80 470.65,474.93 470.90,475.02 471.15,475.09 471.40,475.15 471.65,475.21 471.90,475.25 472.15,475.29 472.40,475.32 472.65,475.35 472.90,475.38 473.15,475.40 473.40,475.42 473.65,475.43 473.90,475.45 474.15,475.46 474.40,475.47 474.65,475.47 474.90,475.48 475.15,475.48 475.40,475.49 475.65,475.49 475.90,475.49 476.15,475.49 476.40,475.50 476.65,475.50 476.90,475.50 477.15,475.50 477.40,475.50 477.65,475.50 477.90,475.50 478.15,475.50 478.40,475.50 478.65,475.50 478.90,475.50 479.15,475.50 479.40,475.50 479.65,475.50 479.90,475.50 480.15,475.50 480.40,475.50 480.65,475.50 480.90,475.50 481.15,475.50 481.40,475.50 481.65,475.50 481.90,475.50 482.15,475.50 482.40,475.50 482.65,475.50 482.90,475.50 483.15,475.50 483.40,475.50 483.65,475.50 483.90,475.50 484.15,475.50 484.40,475.50 484.65,475.50 484.90,475.50 485.15,475.50 485.40,475.50 485.65,475.50 485.90,475.50 486.15,475.50 486.40,475.50 486.65,475.50 486.90,475.50 487.15,475.50 487.40,475.50"/>
</svg></body></html>
